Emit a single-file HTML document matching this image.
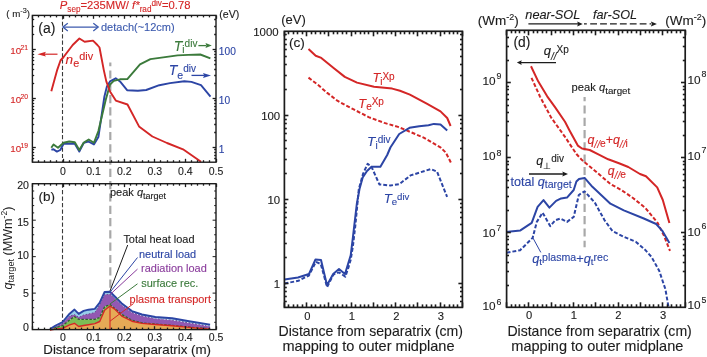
<!DOCTYPE html>
<html><head><meta charset="utf-8"><style>
html,body{margin:0;padding:0;background:#fff;width:707px;height:357px;overflow:hidden}
svg{display:block;will-change:transform}
text{font-family:"Liberation Sans", sans-serif}
</style></head><body>
<svg width="707" height="357" viewBox="0 0 707 357">
<rect width="707" height="357" fill="#fff"/>
<line x1="62.50" y1="15.40" x2="62.50" y2="162.20" stroke="#3a3a3a" stroke-width="1.1" stroke-dasharray="4.1,2.2"/>
<line x1="62.50" y1="183.50" x2="62.50" y2="329.50" stroke="#3a3a3a" stroke-width="1.1" stroke-dasharray="4.2,2.3"/>
<line x1="110.30" y1="62.50" x2="110.30" y2="330.00" stroke="#a8a8a8" stroke-width="2.2" stroke-dasharray="8.2,4.1" stroke-dashoffset="4.4"/>
<polyline points="51.3,149.6 53.5,149.3 56.9,151.6 60.3,150.0 63.6,143.7 69.2,143.7 74.8,143.7 79.3,151.6 83.8,142.8 88.3,141.5 93.9,144.4 98.4,137.0 104.4,96.5 106.9,86.4 110.0,81.4 115.7,78.3 120.0,81.4 127.1,90.2 137.9,90.7 146.2,90.0 159.3,85.2 170.0,83.1 184.3,81.2 191.4,81.9 201.0,85.2 210.5,96.7" fill="none" stroke="#2c45a5" stroke-width="1.9" stroke-linejoin="round"/>
<polyline points="51.3,147.8 53.5,144.4 58.0,147.8 63.6,142.8 69.2,141.5 74.8,142.2 79.3,150.0 83.8,142.6 88.7,139.5 93.9,142.8 98.4,131.0 105.7,100.0 110.0,84.6 113.8,80.8 120.0,79.3 127.3,79.1 140.0,64.4 150.4,59.1 165.0,57.1 177.6,55.4 188.3,54.9 200.3,54.5 210.4,58.3" fill="none" stroke="#3b7a3b" stroke-width="1.9" stroke-linejoin="round"/>
<polyline points="51.3,91.3 57.3,69.6 60.5,60.5 63.6,57.0 72.7,45.0 79.4,38.5 84.6,41.7 93.0,40.6 97.4,45.0 99.5,47.5 103.8,70.1 106.3,81.4 110.0,91.5 115.8,100.6 127.5,104.5 139.0,126.4 152.4,136.5 167.0,143.0 183.0,149.3 201.0,161.8" fill="none" stroke="#d42626" stroke-width="1.9" stroke-linejoin="round"/>
<rect x="32.4" y="15.4" width="183.6" height="146.79999999999998" fill="none" stroke="#1c1c1c" stroke-width="1.4"/>
<line x1="32.50" y1="162.20" x2="32.50" y2="158.80" stroke="#1c1c1c" stroke-width="1.3"/>
<line x1="32.50" y1="15.40" x2="32.50" y2="18.80" stroke="#1c1c1c" stroke-width="1.3"/>
<line x1="38.50" y1="162.20" x2="38.50" y2="160.20" stroke="#1c1c1c" stroke-width="1.3"/>
<line x1="38.50" y1="15.40" x2="38.50" y2="17.40" stroke="#1c1c1c" stroke-width="1.3"/>
<line x1="44.50" y1="162.20" x2="44.50" y2="160.20" stroke="#1c1c1c" stroke-width="1.3"/>
<line x1="44.50" y1="15.40" x2="44.50" y2="17.40" stroke="#1c1c1c" stroke-width="1.3"/>
<line x1="50.50" y1="162.20" x2="50.50" y2="160.20" stroke="#1c1c1c" stroke-width="1.3"/>
<line x1="50.50" y1="15.40" x2="50.50" y2="17.40" stroke="#1c1c1c" stroke-width="1.3"/>
<line x1="56.50" y1="162.20" x2="56.50" y2="160.20" stroke="#1c1c1c" stroke-width="1.3"/>
<line x1="56.50" y1="15.40" x2="56.50" y2="17.40" stroke="#1c1c1c" stroke-width="1.3"/>
<line x1="63.50" y1="162.20" x2="63.50" y2="158.80" stroke="#1c1c1c" stroke-width="1.3"/>
<line x1="63.50" y1="15.40" x2="63.50" y2="18.80" stroke="#1c1c1c" stroke-width="1.3"/>
<line x1="69.50" y1="162.20" x2="69.50" y2="160.20" stroke="#1c1c1c" stroke-width="1.3"/>
<line x1="69.50" y1="15.40" x2="69.50" y2="17.40" stroke="#1c1c1c" stroke-width="1.3"/>
<line x1="75.50" y1="162.20" x2="75.50" y2="160.20" stroke="#1c1c1c" stroke-width="1.3"/>
<line x1="75.50" y1="15.40" x2="75.50" y2="17.40" stroke="#1c1c1c" stroke-width="1.3"/>
<line x1="81.50" y1="162.20" x2="81.50" y2="160.20" stroke="#1c1c1c" stroke-width="1.3"/>
<line x1="81.50" y1="15.40" x2="81.50" y2="17.40" stroke="#1c1c1c" stroke-width="1.3"/>
<line x1="87.50" y1="162.20" x2="87.50" y2="160.20" stroke="#1c1c1c" stroke-width="1.3"/>
<line x1="87.50" y1="15.40" x2="87.50" y2="17.40" stroke="#1c1c1c" stroke-width="1.3"/>
<line x1="93.50" y1="162.20" x2="93.50" y2="158.80" stroke="#1c1c1c" stroke-width="1.3"/>
<line x1="93.50" y1="15.40" x2="93.50" y2="18.80" stroke="#1c1c1c" stroke-width="1.3"/>
<line x1="99.50" y1="162.20" x2="99.50" y2="160.20" stroke="#1c1c1c" stroke-width="1.3"/>
<line x1="99.50" y1="15.40" x2="99.50" y2="17.40" stroke="#1c1c1c" stroke-width="1.3"/>
<line x1="105.50" y1="162.20" x2="105.50" y2="160.20" stroke="#1c1c1c" stroke-width="1.3"/>
<line x1="105.50" y1="15.40" x2="105.50" y2="17.40" stroke="#1c1c1c" stroke-width="1.3"/>
<line x1="111.50" y1="162.20" x2="111.50" y2="160.20" stroke="#1c1c1c" stroke-width="1.3"/>
<line x1="111.50" y1="15.40" x2="111.50" y2="17.40" stroke="#1c1c1c" stroke-width="1.3"/>
<line x1="118.50" y1="162.20" x2="118.50" y2="160.20" stroke="#1c1c1c" stroke-width="1.3"/>
<line x1="118.50" y1="15.40" x2="118.50" y2="17.40" stroke="#1c1c1c" stroke-width="1.3"/>
<line x1="124.50" y1="162.20" x2="124.50" y2="158.80" stroke="#1c1c1c" stroke-width="1.3"/>
<line x1="124.50" y1="15.40" x2="124.50" y2="18.80" stroke="#1c1c1c" stroke-width="1.3"/>
<line x1="130.50" y1="162.20" x2="130.50" y2="160.20" stroke="#1c1c1c" stroke-width="1.3"/>
<line x1="130.50" y1="15.40" x2="130.50" y2="17.40" stroke="#1c1c1c" stroke-width="1.3"/>
<line x1="136.50" y1="162.20" x2="136.50" y2="160.20" stroke="#1c1c1c" stroke-width="1.3"/>
<line x1="136.50" y1="15.40" x2="136.50" y2="17.40" stroke="#1c1c1c" stroke-width="1.3"/>
<line x1="142.50" y1="162.20" x2="142.50" y2="160.20" stroke="#1c1c1c" stroke-width="1.3"/>
<line x1="142.50" y1="15.40" x2="142.50" y2="17.40" stroke="#1c1c1c" stroke-width="1.3"/>
<line x1="148.50" y1="162.20" x2="148.50" y2="160.20" stroke="#1c1c1c" stroke-width="1.3"/>
<line x1="148.50" y1="15.40" x2="148.50" y2="17.40" stroke="#1c1c1c" stroke-width="1.3"/>
<line x1="154.50" y1="162.20" x2="154.50" y2="158.80" stroke="#1c1c1c" stroke-width="1.3"/>
<line x1="154.50" y1="15.40" x2="154.50" y2="18.80" stroke="#1c1c1c" stroke-width="1.3"/>
<line x1="160.50" y1="162.20" x2="160.50" y2="160.20" stroke="#1c1c1c" stroke-width="1.3"/>
<line x1="160.50" y1="15.40" x2="160.50" y2="17.40" stroke="#1c1c1c" stroke-width="1.3"/>
<line x1="167.50" y1="162.20" x2="167.50" y2="160.20" stroke="#1c1c1c" stroke-width="1.3"/>
<line x1="167.50" y1="15.40" x2="167.50" y2="17.40" stroke="#1c1c1c" stroke-width="1.3"/>
<line x1="173.50" y1="162.20" x2="173.50" y2="160.20" stroke="#1c1c1c" stroke-width="1.3"/>
<line x1="173.50" y1="15.40" x2="173.50" y2="17.40" stroke="#1c1c1c" stroke-width="1.3"/>
<line x1="179.50" y1="162.20" x2="179.50" y2="160.20" stroke="#1c1c1c" stroke-width="1.3"/>
<line x1="179.50" y1="15.40" x2="179.50" y2="17.40" stroke="#1c1c1c" stroke-width="1.3"/>
<line x1="185.50" y1="162.20" x2="185.50" y2="158.80" stroke="#1c1c1c" stroke-width="1.3"/>
<line x1="185.50" y1="15.40" x2="185.50" y2="18.80" stroke="#1c1c1c" stroke-width="1.3"/>
<line x1="191.50" y1="162.20" x2="191.50" y2="160.20" stroke="#1c1c1c" stroke-width="1.3"/>
<line x1="191.50" y1="15.40" x2="191.50" y2="17.40" stroke="#1c1c1c" stroke-width="1.3"/>
<line x1="197.50" y1="162.20" x2="197.50" y2="160.20" stroke="#1c1c1c" stroke-width="1.3"/>
<line x1="197.50" y1="15.40" x2="197.50" y2="17.40" stroke="#1c1c1c" stroke-width="1.3"/>
<line x1="203.50" y1="162.20" x2="203.50" y2="160.20" stroke="#1c1c1c" stroke-width="1.3"/>
<line x1="203.50" y1="15.40" x2="203.50" y2="17.40" stroke="#1c1c1c" stroke-width="1.3"/>
<line x1="209.50" y1="162.20" x2="209.50" y2="160.20" stroke="#1c1c1c" stroke-width="1.3"/>
<line x1="209.50" y1="15.40" x2="209.50" y2="17.40" stroke="#1c1c1c" stroke-width="1.3"/>
<line x1="216.50" y1="162.20" x2="216.50" y2="158.80" stroke="#1c1c1c" stroke-width="1.3"/>
<line x1="216.50" y1="15.40" x2="216.50" y2="18.80" stroke="#1c1c1c" stroke-width="1.3"/>
<line x1="32.40" y1="158.50" x2="34.20" y2="158.50" stroke="#1c1c1c" stroke-width="1.3"/>
<line x1="216.00" y1="158.50" x2="214.20" y2="158.50" stroke="#1c1c1c" stroke-width="1.3"/>
<line x1="32.40" y1="155.50" x2="34.20" y2="155.50" stroke="#1c1c1c" stroke-width="1.3"/>
<line x1="216.00" y1="155.50" x2="214.20" y2="155.50" stroke="#1c1c1c" stroke-width="1.3"/>
<line x1="32.40" y1="152.50" x2="34.20" y2="152.50" stroke="#1c1c1c" stroke-width="1.3"/>
<line x1="216.00" y1="152.50" x2="214.20" y2="152.50" stroke="#1c1c1c" stroke-width="1.3"/>
<line x1="32.40" y1="149.50" x2="34.20" y2="149.50" stroke="#1c1c1c" stroke-width="1.3"/>
<line x1="216.00" y1="149.50" x2="214.20" y2="149.50" stroke="#1c1c1c" stroke-width="1.3"/>
<line x1="32.40" y1="147.50" x2="35.80" y2="147.50" stroke="#1c1c1c" stroke-width="1.3"/>
<line x1="216.00" y1="147.50" x2="212.60" y2="147.50" stroke="#1c1c1c" stroke-width="1.3"/>
<line x1="32.40" y1="132.50" x2="34.20" y2="132.50" stroke="#1c1c1c" stroke-width="1.3"/>
<line x1="216.00" y1="132.50" x2="214.20" y2="132.50" stroke="#1c1c1c" stroke-width="1.3"/>
<line x1="32.40" y1="124.50" x2="34.20" y2="124.50" stroke="#1c1c1c" stroke-width="1.3"/>
<line x1="216.00" y1="124.50" x2="214.20" y2="124.50" stroke="#1c1c1c" stroke-width="1.3"/>
<line x1="32.40" y1="118.50" x2="34.20" y2="118.50" stroke="#1c1c1c" stroke-width="1.3"/>
<line x1="216.00" y1="118.50" x2="214.20" y2="118.50" stroke="#1c1c1c" stroke-width="1.3"/>
<line x1="32.40" y1="113.50" x2="34.20" y2="113.50" stroke="#1c1c1c" stroke-width="1.3"/>
<line x1="216.00" y1="113.50" x2="214.20" y2="113.50" stroke="#1c1c1c" stroke-width="1.3"/>
<line x1="32.40" y1="109.50" x2="34.20" y2="109.50" stroke="#1c1c1c" stroke-width="1.3"/>
<line x1="216.00" y1="109.50" x2="214.20" y2="109.50" stroke="#1c1c1c" stroke-width="1.3"/>
<line x1="32.40" y1="106.50" x2="34.20" y2="106.50" stroke="#1c1c1c" stroke-width="1.3"/>
<line x1="216.00" y1="106.50" x2="214.20" y2="106.50" stroke="#1c1c1c" stroke-width="1.3"/>
<line x1="32.40" y1="103.50" x2="34.20" y2="103.50" stroke="#1c1c1c" stroke-width="1.3"/>
<line x1="216.00" y1="103.50" x2="214.20" y2="103.50" stroke="#1c1c1c" stroke-width="1.3"/>
<line x1="32.40" y1="100.50" x2="34.20" y2="100.50" stroke="#1c1c1c" stroke-width="1.3"/>
<line x1="216.00" y1="100.50" x2="214.20" y2="100.50" stroke="#1c1c1c" stroke-width="1.3"/>
<line x1="32.40" y1="98.50" x2="35.80" y2="98.50" stroke="#1c1c1c" stroke-width="1.3"/>
<line x1="216.00" y1="98.50" x2="212.60" y2="98.50" stroke="#1c1c1c" stroke-width="1.3"/>
<line x1="32.40" y1="83.50" x2="34.20" y2="83.50" stroke="#1c1c1c" stroke-width="1.3"/>
<line x1="216.00" y1="83.50" x2="214.20" y2="83.50" stroke="#1c1c1c" stroke-width="1.3"/>
<line x1="32.40" y1="75.50" x2="34.20" y2="75.50" stroke="#1c1c1c" stroke-width="1.3"/>
<line x1="216.00" y1="75.50" x2="214.20" y2="75.50" stroke="#1c1c1c" stroke-width="1.3"/>
<line x1="32.40" y1="69.50" x2="34.20" y2="69.50" stroke="#1c1c1c" stroke-width="1.3"/>
<line x1="216.00" y1="69.50" x2="214.20" y2="69.50" stroke="#1c1c1c" stroke-width="1.3"/>
<line x1="32.40" y1="64.50" x2="34.20" y2="64.50" stroke="#1c1c1c" stroke-width="1.3"/>
<line x1="216.00" y1="64.50" x2="214.20" y2="64.50" stroke="#1c1c1c" stroke-width="1.3"/>
<line x1="32.40" y1="60.50" x2="34.20" y2="60.50" stroke="#1c1c1c" stroke-width="1.3"/>
<line x1="216.00" y1="60.50" x2="214.20" y2="60.50" stroke="#1c1c1c" stroke-width="1.3"/>
<line x1="32.40" y1="57.50" x2="34.20" y2="57.50" stroke="#1c1c1c" stroke-width="1.3"/>
<line x1="216.00" y1="57.50" x2="214.20" y2="57.50" stroke="#1c1c1c" stroke-width="1.3"/>
<line x1="32.40" y1="54.50" x2="34.20" y2="54.50" stroke="#1c1c1c" stroke-width="1.3"/>
<line x1="216.00" y1="54.50" x2="214.20" y2="54.50" stroke="#1c1c1c" stroke-width="1.3"/>
<line x1="32.40" y1="51.50" x2="34.20" y2="51.50" stroke="#1c1c1c" stroke-width="1.3"/>
<line x1="216.00" y1="51.50" x2="214.20" y2="51.50" stroke="#1c1c1c" stroke-width="1.3"/>
<line x1="32.40" y1="49.50" x2="35.80" y2="49.50" stroke="#1c1c1c" stroke-width="1.3"/>
<line x1="216.00" y1="49.50" x2="212.60" y2="49.50" stroke="#1c1c1c" stroke-width="1.3"/>
<line x1="32.40" y1="34.50" x2="34.20" y2="34.50" stroke="#1c1c1c" stroke-width="1.3"/>
<line x1="216.00" y1="34.50" x2="214.20" y2="34.50" stroke="#1c1c1c" stroke-width="1.3"/>
<line x1="32.40" y1="26.50" x2="34.20" y2="26.50" stroke="#1c1c1c" stroke-width="1.3"/>
<line x1="216.00" y1="26.50" x2="214.20" y2="26.50" stroke="#1c1c1c" stroke-width="1.3"/>
<line x1="32.40" y1="19.50" x2="34.20" y2="19.50" stroke="#1c1c1c" stroke-width="1.3"/>
<line x1="216.00" y1="19.50" x2="214.20" y2="19.50" stroke="#1c1c1c" stroke-width="1.3"/>
<text x="63.00" y="175.30" font-size="10.5" fill="#1c1c1c" stroke="#1c1c1c" stroke-width="0.12" text-anchor="middle">0</text>
<text x="93.60" y="175.30" font-size="10.5" fill="#1c1c1c" stroke="#1c1c1c" stroke-width="0.12" text-anchor="middle">0.1</text>
<text x="124.20" y="175.30" font-size="10.5" fill="#1c1c1c" stroke="#1c1c1c" stroke-width="0.12" text-anchor="middle">0.2</text>
<text x="154.80" y="175.30" font-size="10.5" fill="#1c1c1c" stroke="#1c1c1c" stroke-width="0.12" text-anchor="middle">0.3</text>
<text x="185.40" y="175.30" font-size="10.5" fill="#1c1c1c" stroke="#1c1c1c" stroke-width="0.12" text-anchor="middle">0.4</text>
<text x="216.00" y="175.30" font-size="10.5" fill="#1c1c1c" stroke="#1c1c1c" stroke-width="0.12" text-anchor="middle">0.5</text>
<text x="10.20" y="152.10" font-size="9.8" fill="#d42626" stroke="#d42626" stroke-width="0.12" text-anchor="start">10</text>
<text x="20.60" y="148.00" font-size="6.8" fill="#d42626" stroke="#d42626" stroke-width="0.12" text-anchor="start">19</text>
<text x="10.20" y="103.00" font-size="9.8" fill="#d42626" stroke="#d42626" stroke-width="0.12" text-anchor="start">10</text>
<text x="20.60" y="98.90" font-size="6.8" fill="#d42626" stroke="#d42626" stroke-width="0.12" text-anchor="start">20</text>
<text x="10.20" y="53.90" font-size="9.8" fill="#d42626" stroke="#d42626" stroke-width="0.12" text-anchor="start">10</text>
<text x="20.60" y="49.80" font-size="6.8" fill="#d42626" stroke="#d42626" stroke-width="0.12" text-anchor="start">21</text>
<text x="218.80" y="152.90" font-size="10.2" fill="#2c45a5" stroke="#2c45a5" stroke-width="0.12" text-anchor="start">1</text>
<text x="218.80" y="103.80" font-size="10.2" fill="#2c45a5" stroke="#2c45a5" stroke-width="0.12" text-anchor="start">10</text>
<text x="218.80" y="54.70" font-size="10.2" fill="#2c45a5" stroke="#2c45a5" stroke-width="0.12" text-anchor="start">100</text>
<text x="6.30" y="17.20" font-size="9.6" fill="#1c1c1c" stroke="#1c1c1c" stroke-width="0.12" text-anchor="start" textLength="23.8" lengthAdjust="spacingAndGlyphs">( m<tspan dy="-3.8" font-size="7.2">-3</tspan><tspan dy="3.8">)</tspan></text>
<text x="219.30" y="18.10" font-size="10.6" fill="#1c1c1c" stroke="#1c1c1c" stroke-width="0.12" text-anchor="start">(eV)</text>
<text x="59.80" y="9.40" font-size="11.25" fill="#d42626" stroke="#d42626" stroke-width="0.12" text-anchor="start"><tspan font-style="italic">P</tspan><tspan dy="2.7" font-size="8.2">sep</tspan><tspan dy="-2.7">=235MW/ </tspan><tspan font-style="italic">f*</tspan><tspan dy="2.7" font-size="8.2">rad</tspan><tspan dy="-6.4" font-size="8.2">div</tspan><tspan dy="3.7">=0.78</tspan></text>
<text x="38.30" y="33.20" font-size="14.0" fill="#1c1c1c" stroke="#1c1c1c" stroke-width="0.12" text-anchor="start">(a)</text>
<line x1="57.50" y1="54.20" x2="44.00" y2="54.20" stroke="#d42626" stroke-width="1.2"/>
<polygon points="37.4,54.2 45.9,51.8 44.6,54.2 45.9,56.6" fill="#d42626"/>
<line x1="63.20" y1="27.10" x2="97.80" y2="27.10" stroke="#3c5aae" stroke-width="1.3"/>
<polyline points="67.8,23.3 62.9,27.1 67.8,30.9" fill="none" stroke="#3c5aae" stroke-width="1.3"/>
<polyline points="93.3,23.3 98.2,27.1 93.3,30.9" fill="none" stroke="#3c5aae" stroke-width="1.3"/>
<text x="101.00" y="31.30" font-size="11.0" fill="#3c5aae" stroke="#3c5aae" stroke-width="0.12" text-anchor="start">detach(~12cm)</text>
<text x="65.60" y="63.60" font-size="13.6" fill="#d42626" stroke="#d42626" stroke-width="0.12" text-anchor="start"><tspan font-style="italic">n</tspan><tspan dy="3.1" font-size="10.8">e</tspan><tspan dy="-6.4" font-size="10.9">div</tspan></text>
<text x="173.80" y="50.80" font-size="14.0" fill="#3b7a3b" stroke="#3b7a3b" stroke-width="0.12" text-anchor="start"><tspan font-style="italic">T</tspan><tspan dy="2.6" font-size="10">i</tspan><tspan dy="-6.4" font-size="10">div</tspan></text>
<line x1="198.40" y1="45.60" x2="206.00" y2="45.60" stroke="#3b7a3b" stroke-width="1.3"/>
<polygon points="211.8,45.6 205.5,48.1 206.4,45.6 205.5,43.1" fill="#3b7a3b"/>
<text x="168.80" y="75.30" font-size="14.0" fill="#2c45a5" stroke="#2c45a5" stroke-width="0.12" text-anchor="start"><tspan font-style="italic">T</tspan><tspan dy="3.2" font-size="10.5">e</tspan><tspan dy="-6.9" font-size="10">div</tspan></text>
<line x1="191.50" y1="75.40" x2="204.00" y2="75.40" stroke="#2c45a5" stroke-width="1.3"/>
<polygon points="211.0,75.4 203.0,77.9 204.2,75.4 203.0,72.9" fill="#2c45a5"/>
<polygon points="50.0,329.0 55.6,325.5 62.6,322.0 69.6,313.7 74.5,309.6 78.7,313.9 83.6,310.9 88.5,309.7 94.8,308.9 99.7,302.7 104.6,292.0 110.0,291.8 115.1,296.8 121.8,303.5 131.9,311.1 142.0,314.5 155.4,317.0 172.2,318.3 189.1,321.2 210.1,324.6 210.1,326.2 189.1,322.8 172.2,320.0 155.4,318.5 142.0,315.8 131.9,312.3 121.8,305.0 115.1,298.5 110.0,294.3 104.6,294.5 99.7,304.8 94.8,312.5 88.5,314.0 83.6,315.0 78.7,317.2 74.5,314.6 69.6,316.0 62.6,323.3 55.6,326.5 50.0,329.5" fill="#98cfea"/>
<polygon points="50.0,329.5 55.6,326.5 62.6,323.3 69.6,316.0 74.5,314.6 78.7,317.2 83.6,315.0 88.5,314.0 94.8,312.5 99.7,304.8 104.6,294.5 110.0,294.3 115.1,298.5 121.8,305.0 131.9,312.3 142.0,315.8 155.4,318.5 172.2,320.0 189.1,322.8 210.1,326.2 210.1,328.8 189.1,327.1 172.2,325.4 155.4,324.0 142.0,322.9 131.9,320.3 121.8,314.5 115.1,308.6 110.0,304.6 104.6,306.7 99.7,317.5 94.8,319.3 88.5,319.3 83.6,319.3 78.7,319.3 74.5,316.6 69.6,320.0 62.6,325.6 55.6,327.5 50.0,330.0" fill="#9358b2"/>
<polygon points="50.0,330.0 55.6,327.5 62.6,325.6 69.6,320.0 74.5,316.6 78.7,319.3 83.6,319.3 88.5,319.3 94.8,319.3 99.7,317.5 104.6,306.7 110.0,304.6 115.1,308.6 121.8,314.5 131.9,320.3 142.0,322.9 155.4,324.0 172.2,325.4 189.1,327.1 210.1,328.8 210.1,329.2 189.1,327.4 172.2,325.8 155.4,324.5 142.0,323.4 131.9,321.2 121.8,316.1 115.1,309.4 110.0,306.0 104.6,310.2 99.7,321.5 94.8,323.6 88.5,324.7 83.6,325.5 78.7,326.5 74.5,323.3 69.6,324.9 62.6,328.3 55.6,329.1 50.0,330.0" fill="#7dbd55"/>
<polygon points="50.0,330.0 55.6,329.1 62.6,328.3 69.6,324.9 74.5,323.3 78.7,326.5 83.6,325.5 88.5,324.7 94.8,323.6 99.7,321.5 104.6,310.2 110.0,306.0 115.1,309.4 121.8,316.1 131.9,321.2 142.0,323.4 155.4,324.5 172.2,325.8 189.1,327.4 210.1,329.2 210.1,329.6 189.1,329.6 172.2,329.6 155.4,329.6 142.0,329.6 131.9,329.6 121.8,329.6 115.1,329.6 110.0,329.6 104.6,329.6 99.7,329.6 94.8,329.6 88.5,329.6 83.6,329.6 78.7,329.6 74.5,329.6 69.6,329.6 62.6,329.6 55.6,329.6 50.0,329.6" fill="#e6aa56"/>
<polyline points="50.0,329.5 55.6,326.5 62.6,323.3 69.6,316.0 74.5,314.6 78.7,317.2 83.6,315.0 88.5,314.0 94.8,312.5 99.7,304.8 104.6,294.5 110.0,294.3 115.1,298.5 121.8,305.0 131.9,312.3 142.0,315.8 155.4,318.5 172.2,320.0 189.1,322.8 210.1,326.2" fill="none" stroke="#5a4a8a" stroke-width="0.9" stroke-linejoin="round" stroke-dasharray="1.6,1.6"/>
<polyline points="115.1,298.5 121.8,305.0 131.9,312.3 142.0,315.8 155.4,318.5 172.2,320.0 189.1,322.8 210.1,326.2" fill="none" stroke="#dfe8f8" stroke-width="1.0" stroke-linejoin="round" stroke-dasharray="1.2,2.2"/>
<polyline points="50.0,330.0 55.6,327.5 62.6,325.6 69.6,320.0 74.5,316.6 78.7,319.3 83.6,319.3 88.5,319.3 94.8,319.3 99.7,317.5 104.6,306.7 110.0,304.6 115.1,308.6 121.8,314.5 131.9,320.3 142.0,322.9 155.4,324.0 172.2,325.4 189.1,327.1 210.1,328.8" fill="none" stroke="#2f5f2f" stroke-width="1.3" stroke-linejoin="round" stroke-dasharray="2.5,1.5"/>
<polyline points="50.0,330.0 55.6,329.1 62.6,328.3 69.6,324.9 74.5,323.3 78.7,326.5 83.6,325.5 88.5,324.7 94.8,323.6 99.7,321.5 104.6,310.2 110.0,306.0 115.1,309.4 121.8,316.1 131.9,321.2 142.0,323.4 155.4,324.5 172.2,325.8 189.1,327.4 210.1,329.2" fill="none" stroke="#d42626" stroke-width="1.4" stroke-linejoin="round"/>
<polyline points="50.0,329.0 55.6,325.5 62.6,322.0 69.6,313.7 74.5,309.6 78.7,313.9 83.6,310.9 88.5,309.7 94.8,308.9 99.7,302.7 104.6,292.0 110.0,291.8 115.1,296.8 121.8,303.5 131.9,311.1 142.0,314.5 155.4,317.0 172.2,318.3 189.1,321.2 210.1,324.6" fill="none" stroke="#2c45a5" stroke-width="1.9" stroke-linejoin="round"/>
<line x1="110.00" y1="329.60" x2="110.00" y2="306.00" stroke="#d42626" stroke-width="1.1"/>
<line x1="110.00" y1="321.20" x2="133.60" y2="303.50" stroke="#d42626" stroke-width="1.0"/>
<line x1="110.00" y1="304.00" x2="137.50" y2="283.80" stroke="#3b7a3b" stroke-width="1.0"/>
<line x1="110.00" y1="294.60" x2="137.50" y2="269.10" stroke="#8a3c9c" stroke-width="1.0"/>
<line x1="110.00" y1="292.30" x2="137.50" y2="257.50" stroke="#2c45a5" stroke-width="1.0"/>
<line x1="110.00" y1="291.00" x2="127.70" y2="245.00" stroke="#1c1c1c" stroke-width="1.0"/>
<rect x="32.4" y="183.7" width="183.6" height="145.90000000000003" fill="none" stroke="#1c1c1c" stroke-width="1.4"/>
<line x1="32.50" y1="329.60" x2="32.50" y2="326.20" stroke="#1c1c1c" stroke-width="1.3"/>
<line x1="32.50" y1="183.70" x2="32.50" y2="187.10" stroke="#1c1c1c" stroke-width="1.3"/>
<line x1="38.50" y1="329.60" x2="38.50" y2="327.60" stroke="#1c1c1c" stroke-width="1.3"/>
<line x1="38.50" y1="183.70" x2="38.50" y2="185.70" stroke="#1c1c1c" stroke-width="1.3"/>
<line x1="44.50" y1="329.60" x2="44.50" y2="327.60" stroke="#1c1c1c" stroke-width="1.3"/>
<line x1="44.50" y1="183.70" x2="44.50" y2="185.70" stroke="#1c1c1c" stroke-width="1.3"/>
<line x1="50.50" y1="329.60" x2="50.50" y2="327.60" stroke="#1c1c1c" stroke-width="1.3"/>
<line x1="50.50" y1="183.70" x2="50.50" y2="185.70" stroke="#1c1c1c" stroke-width="1.3"/>
<line x1="56.50" y1="329.60" x2="56.50" y2="327.60" stroke="#1c1c1c" stroke-width="1.3"/>
<line x1="56.50" y1="183.70" x2="56.50" y2="185.70" stroke="#1c1c1c" stroke-width="1.3"/>
<line x1="63.50" y1="329.60" x2="63.50" y2="326.20" stroke="#1c1c1c" stroke-width="1.3"/>
<line x1="63.50" y1="183.70" x2="63.50" y2="187.10" stroke="#1c1c1c" stroke-width="1.3"/>
<line x1="69.50" y1="329.60" x2="69.50" y2="327.60" stroke="#1c1c1c" stroke-width="1.3"/>
<line x1="69.50" y1="183.70" x2="69.50" y2="185.70" stroke="#1c1c1c" stroke-width="1.3"/>
<line x1="75.50" y1="329.60" x2="75.50" y2="327.60" stroke="#1c1c1c" stroke-width="1.3"/>
<line x1="75.50" y1="183.70" x2="75.50" y2="185.70" stroke="#1c1c1c" stroke-width="1.3"/>
<line x1="81.50" y1="329.60" x2="81.50" y2="327.60" stroke="#1c1c1c" stroke-width="1.3"/>
<line x1="81.50" y1="183.70" x2="81.50" y2="185.70" stroke="#1c1c1c" stroke-width="1.3"/>
<line x1="87.50" y1="329.60" x2="87.50" y2="327.60" stroke="#1c1c1c" stroke-width="1.3"/>
<line x1="87.50" y1="183.70" x2="87.50" y2="185.70" stroke="#1c1c1c" stroke-width="1.3"/>
<line x1="93.50" y1="329.60" x2="93.50" y2="326.20" stroke="#1c1c1c" stroke-width="1.3"/>
<line x1="93.50" y1="183.70" x2="93.50" y2="187.10" stroke="#1c1c1c" stroke-width="1.3"/>
<line x1="99.50" y1="329.60" x2="99.50" y2="327.60" stroke="#1c1c1c" stroke-width="1.3"/>
<line x1="99.50" y1="183.70" x2="99.50" y2="185.70" stroke="#1c1c1c" stroke-width="1.3"/>
<line x1="105.50" y1="329.60" x2="105.50" y2="327.60" stroke="#1c1c1c" stroke-width="1.3"/>
<line x1="105.50" y1="183.70" x2="105.50" y2="185.70" stroke="#1c1c1c" stroke-width="1.3"/>
<line x1="111.50" y1="329.60" x2="111.50" y2="327.60" stroke="#1c1c1c" stroke-width="1.3"/>
<line x1="111.50" y1="183.70" x2="111.50" y2="185.70" stroke="#1c1c1c" stroke-width="1.3"/>
<line x1="118.50" y1="329.60" x2="118.50" y2="327.60" stroke="#1c1c1c" stroke-width="1.3"/>
<line x1="118.50" y1="183.70" x2="118.50" y2="185.70" stroke="#1c1c1c" stroke-width="1.3"/>
<line x1="124.50" y1="329.60" x2="124.50" y2="326.20" stroke="#1c1c1c" stroke-width="1.3"/>
<line x1="124.50" y1="183.70" x2="124.50" y2="187.10" stroke="#1c1c1c" stroke-width="1.3"/>
<line x1="130.50" y1="329.60" x2="130.50" y2="327.60" stroke="#1c1c1c" stroke-width="1.3"/>
<line x1="130.50" y1="183.70" x2="130.50" y2="185.70" stroke="#1c1c1c" stroke-width="1.3"/>
<line x1="136.50" y1="329.60" x2="136.50" y2="327.60" stroke="#1c1c1c" stroke-width="1.3"/>
<line x1="136.50" y1="183.70" x2="136.50" y2="185.70" stroke="#1c1c1c" stroke-width="1.3"/>
<line x1="142.50" y1="329.60" x2="142.50" y2="327.60" stroke="#1c1c1c" stroke-width="1.3"/>
<line x1="142.50" y1="183.70" x2="142.50" y2="185.70" stroke="#1c1c1c" stroke-width="1.3"/>
<line x1="148.50" y1="329.60" x2="148.50" y2="327.60" stroke="#1c1c1c" stroke-width="1.3"/>
<line x1="148.50" y1="183.70" x2="148.50" y2="185.70" stroke="#1c1c1c" stroke-width="1.3"/>
<line x1="154.50" y1="329.60" x2="154.50" y2="326.20" stroke="#1c1c1c" stroke-width="1.3"/>
<line x1="154.50" y1="183.70" x2="154.50" y2="187.10" stroke="#1c1c1c" stroke-width="1.3"/>
<line x1="160.50" y1="329.60" x2="160.50" y2="327.60" stroke="#1c1c1c" stroke-width="1.3"/>
<line x1="160.50" y1="183.70" x2="160.50" y2="185.70" stroke="#1c1c1c" stroke-width="1.3"/>
<line x1="167.50" y1="329.60" x2="167.50" y2="327.60" stroke="#1c1c1c" stroke-width="1.3"/>
<line x1="167.50" y1="183.70" x2="167.50" y2="185.70" stroke="#1c1c1c" stroke-width="1.3"/>
<line x1="173.50" y1="329.60" x2="173.50" y2="327.60" stroke="#1c1c1c" stroke-width="1.3"/>
<line x1="173.50" y1="183.70" x2="173.50" y2="185.70" stroke="#1c1c1c" stroke-width="1.3"/>
<line x1="179.50" y1="329.60" x2="179.50" y2="327.60" stroke="#1c1c1c" stroke-width="1.3"/>
<line x1="179.50" y1="183.70" x2="179.50" y2="185.70" stroke="#1c1c1c" stroke-width="1.3"/>
<line x1="185.50" y1="329.60" x2="185.50" y2="326.20" stroke="#1c1c1c" stroke-width="1.3"/>
<line x1="185.50" y1="183.70" x2="185.50" y2="187.10" stroke="#1c1c1c" stroke-width="1.3"/>
<line x1="191.50" y1="329.60" x2="191.50" y2="327.60" stroke="#1c1c1c" stroke-width="1.3"/>
<line x1="191.50" y1="183.70" x2="191.50" y2="185.70" stroke="#1c1c1c" stroke-width="1.3"/>
<line x1="197.50" y1="329.60" x2="197.50" y2="327.60" stroke="#1c1c1c" stroke-width="1.3"/>
<line x1="197.50" y1="183.70" x2="197.50" y2="185.70" stroke="#1c1c1c" stroke-width="1.3"/>
<line x1="203.50" y1="329.60" x2="203.50" y2="327.60" stroke="#1c1c1c" stroke-width="1.3"/>
<line x1="203.50" y1="183.70" x2="203.50" y2="185.70" stroke="#1c1c1c" stroke-width="1.3"/>
<line x1="209.50" y1="329.60" x2="209.50" y2="327.60" stroke="#1c1c1c" stroke-width="1.3"/>
<line x1="209.50" y1="183.70" x2="209.50" y2="185.70" stroke="#1c1c1c" stroke-width="1.3"/>
<line x1="216.50" y1="329.60" x2="216.50" y2="326.20" stroke="#1c1c1c" stroke-width="1.3"/>
<line x1="216.50" y1="183.70" x2="216.50" y2="187.10" stroke="#1c1c1c" stroke-width="1.3"/>
<line x1="32.40" y1="322.31" x2="34.20" y2="322.31" stroke="#1c1c1c" stroke-width="1.0"/>
<line x1="216.00" y1="322.31" x2="214.20" y2="322.31" stroke="#1c1c1c" stroke-width="1.0"/>
<line x1="32.40" y1="315.01" x2="34.20" y2="315.01" stroke="#1c1c1c" stroke-width="1.0"/>
<line x1="216.00" y1="315.01" x2="214.20" y2="315.01" stroke="#1c1c1c" stroke-width="1.0"/>
<line x1="32.40" y1="307.72" x2="34.20" y2="307.72" stroke="#1c1c1c" stroke-width="1.0"/>
<line x1="216.00" y1="307.72" x2="214.20" y2="307.72" stroke="#1c1c1c" stroke-width="1.0"/>
<line x1="32.40" y1="300.42" x2="34.20" y2="300.42" stroke="#1c1c1c" stroke-width="1.0"/>
<line x1="216.00" y1="300.42" x2="214.20" y2="300.42" stroke="#1c1c1c" stroke-width="1.0"/>
<line x1="32.40" y1="293.12" x2="35.80" y2="293.12" stroke="#1c1c1c" stroke-width="1.0"/>
<line x1="216.00" y1="293.12" x2="212.60" y2="293.12" stroke="#1c1c1c" stroke-width="1.0"/>
<line x1="32.40" y1="285.83" x2="34.20" y2="285.83" stroke="#1c1c1c" stroke-width="1.0"/>
<line x1="216.00" y1="285.83" x2="214.20" y2="285.83" stroke="#1c1c1c" stroke-width="1.0"/>
<line x1="32.40" y1="278.54" x2="34.20" y2="278.54" stroke="#1c1c1c" stroke-width="1.0"/>
<line x1="216.00" y1="278.54" x2="214.20" y2="278.54" stroke="#1c1c1c" stroke-width="1.0"/>
<line x1="32.40" y1="271.24" x2="34.20" y2="271.24" stroke="#1c1c1c" stroke-width="1.0"/>
<line x1="216.00" y1="271.24" x2="214.20" y2="271.24" stroke="#1c1c1c" stroke-width="1.0"/>
<line x1="32.40" y1="263.94" x2="34.20" y2="263.94" stroke="#1c1c1c" stroke-width="1.0"/>
<line x1="216.00" y1="263.94" x2="214.20" y2="263.94" stroke="#1c1c1c" stroke-width="1.0"/>
<line x1="32.40" y1="256.65" x2="35.80" y2="256.65" stroke="#1c1c1c" stroke-width="1.0"/>
<line x1="216.00" y1="256.65" x2="212.60" y2="256.65" stroke="#1c1c1c" stroke-width="1.0"/>
<line x1="32.40" y1="249.36" x2="34.20" y2="249.36" stroke="#1c1c1c" stroke-width="1.0"/>
<line x1="216.00" y1="249.36" x2="214.20" y2="249.36" stroke="#1c1c1c" stroke-width="1.0"/>
<line x1="32.40" y1="242.06" x2="34.20" y2="242.06" stroke="#1c1c1c" stroke-width="1.0"/>
<line x1="216.00" y1="242.06" x2="214.20" y2="242.06" stroke="#1c1c1c" stroke-width="1.0"/>
<line x1="32.40" y1="234.76" x2="34.20" y2="234.76" stroke="#1c1c1c" stroke-width="1.0"/>
<line x1="216.00" y1="234.76" x2="214.20" y2="234.76" stroke="#1c1c1c" stroke-width="1.0"/>
<line x1="32.40" y1="227.47" x2="34.20" y2="227.47" stroke="#1c1c1c" stroke-width="1.0"/>
<line x1="216.00" y1="227.47" x2="214.20" y2="227.47" stroke="#1c1c1c" stroke-width="1.0"/>
<line x1="32.40" y1="220.18" x2="35.80" y2="220.18" stroke="#1c1c1c" stroke-width="1.0"/>
<line x1="216.00" y1="220.18" x2="212.60" y2="220.18" stroke="#1c1c1c" stroke-width="1.0"/>
<line x1="32.40" y1="212.88" x2="34.20" y2="212.88" stroke="#1c1c1c" stroke-width="1.0"/>
<line x1="216.00" y1="212.88" x2="214.20" y2="212.88" stroke="#1c1c1c" stroke-width="1.0"/>
<line x1="32.40" y1="205.58" x2="34.20" y2="205.58" stroke="#1c1c1c" stroke-width="1.0"/>
<line x1="216.00" y1="205.58" x2="214.20" y2="205.58" stroke="#1c1c1c" stroke-width="1.0"/>
<line x1="32.40" y1="198.29" x2="34.20" y2="198.29" stroke="#1c1c1c" stroke-width="1.0"/>
<line x1="216.00" y1="198.29" x2="214.20" y2="198.29" stroke="#1c1c1c" stroke-width="1.0"/>
<line x1="32.40" y1="191.00" x2="34.20" y2="191.00" stroke="#1c1c1c" stroke-width="1.0"/>
<line x1="216.00" y1="191.00" x2="214.20" y2="191.00" stroke="#1c1c1c" stroke-width="1.0"/>
<text x="63.00" y="340.50" font-size="10.5" fill="#1c1c1c" stroke="#1c1c1c" stroke-width="0.12" text-anchor="middle">0</text>
<text x="93.60" y="340.50" font-size="10.5" fill="#1c1c1c" stroke="#1c1c1c" stroke-width="0.12" text-anchor="middle">0.1</text>
<text x="124.20" y="340.50" font-size="10.5" fill="#1c1c1c" stroke="#1c1c1c" stroke-width="0.12" text-anchor="middle">0.2</text>
<text x="154.80" y="340.50" font-size="10.5" fill="#1c1c1c" stroke="#1c1c1c" stroke-width="0.12" text-anchor="middle">0.3</text>
<text x="185.40" y="340.50" font-size="10.5" fill="#1c1c1c" stroke="#1c1c1c" stroke-width="0.12" text-anchor="middle">0.4</text>
<text x="216.00" y="340.50" font-size="10.5" fill="#1c1c1c" stroke="#1c1c1c" stroke-width="0.12" text-anchor="middle">0.5</text>
<text x="29.00" y="330.70" font-size="10.6" fill="#1c1c1c" stroke="#1c1c1c" stroke-width="0.12" text-anchor="end">0</text>
<text x="29.00" y="297.20" font-size="10.6" fill="#1c1c1c" stroke="#1c1c1c" stroke-width="0.12" text-anchor="end">5</text>
<text x="29.00" y="259.30" font-size="10.6" fill="#1c1c1c" stroke="#1c1c1c" stroke-width="0.12" text-anchor="end">10</text>
<text x="29.00" y="226.10" font-size="10.6" fill="#1c1c1c" stroke="#1c1c1c" stroke-width="0.12" text-anchor="end">15</text>
<text x="29.00" y="189.30" font-size="10.6" fill="#1c1c1c" stroke="#1c1c1c" stroke-width="0.12" text-anchor="end">20</text>
<text x="38.40" y="200.70" font-size="13.5" fill="#1c1c1c" stroke="#1c1c1c" stroke-width="0.12" text-anchor="start">(b)</text>
<text x="110.00" y="195.90" font-size="11.0" fill="#1c1c1c" stroke="#1c1c1c" stroke-width="0.12" text-anchor="start">peak <tspan font-style="italic">q</tspan><tspan dy="2.6" font-size="9.0">target</tspan></text>
<text x="123.40" y="242.80" font-size="10.95" fill="#1c1c1c" stroke="#1c1c1c" stroke-width="0.12" text-anchor="start">Total heat load</text>
<text x="139.00" y="257.50" font-size="10.95" fill="#2c45a5" stroke="#2c45a5" stroke-width="0.12" text-anchor="start">neutral load</text>
<text x="141.10" y="272.00" font-size="10.95" fill="#8a3c9c" stroke="#8a3c9c" stroke-width="0.12" text-anchor="start">radiation load</text>
<text x="141.20" y="286.90" font-size="10.95" fill="#3b7a3b" stroke="#3b7a3b" stroke-width="0.12" text-anchor="start">surface rec.</text>
<text x="129.60" y="302.70" font-size="10.95" fill="#d42626" stroke="#d42626" stroke-width="0.12" text-anchor="start">plasma transport</text>
<text x="43.30" y="354.00" font-size="13.3" fill="#1c1c1c" stroke="#1c1c1c" stroke-width="0.12" text-anchor="start">Distance from separatrix (m)</text>
<text transform="translate(11.6,248) rotate(-90)" font-size="12.6" fill="#1c1c1c" text-anchor="middle"><tspan font-style="italic">q</tspan><tspan dy="2.6" font-size="9.2">target</tspan><tspan dy="-2.6"> (MWm</tspan><tspan dy="-4.4" font-size="8.6">-2</tspan><tspan dy="4.4">)</tspan></text>
<polyline points="308.5,49.0 315.7,55.7 321.3,57.9 333.6,68.0 344.8,76.9 357.0,82.6 374.0,86.8 392.2,88.6 400.0,90.8 409.9,94.6 427.2,103.9 440.5,111.4 447.2,118.0 450.6,126.0" fill="none" stroke="#d42626" stroke-width="2.0" stroke-linejoin="round"/>
<polyline points="308.5,77.6 317.9,84.8 326.9,92.6 336.9,100.4 344.8,104.9 353.7,109.4 368.6,117.1 384.3,122.9 398.0,126.9 405.0,129.7 423.2,137.4 440.8,147.6 445.9,152.7 451.0,162.8" fill="none" stroke="#d42626" stroke-width="2.0" stroke-linejoin="round" stroke-dasharray="3.9,2.0"/>
<polyline points="284.5,279.5 298.0,277.5 309.0,274.0 315.5,259.5 321.0,260.0 327.0,285.3 333.2,274.0 339.0,269.0 345.0,274.0 350.7,255.3 352.9,237.4 354.8,221.0 356.8,204.0 359.5,189.0 362.7,177.5 367.0,171.0 371.5,166.8 380.4,166.8 387.2,155.0 390.4,147.5 399.2,134.0 409.5,127.8 419.2,126.3 428.5,125.2 433.9,123.9 440.5,124.4 447.2,130.5" fill="none" stroke="#2c45a5" stroke-width="2.0" stroke-linejoin="round"/>
<polyline points="284.5,283.5 298.4,280.8 308.9,275.5 315.9,261.9 320.8,264.0 327.1,287.1 333.4,274.5 339.0,272.4 345.3,276.6 348.4,267.6 350.7,259.7 352.9,246.3 355.3,226.0 358.8,189.3 363.0,174.0 367.6,163.8 371.5,166.8 379.4,184.4 390.4,185.5 399.2,184.2 410.6,175.4 430.7,169.1 437.0,171.6 447.1,196.8" fill="none" stroke="#2c45a5" stroke-width="2.0" stroke-linejoin="round" stroke-dasharray="3.9,2.0"/>
<rect x="284.4" y="31.3" width="178.0" height="276.09999999999997" fill="none" stroke="#1c1c1c" stroke-width="1.7"/>
<line x1="284.50" y1="307.40" x2="284.50" y2="302.40" stroke="#1c1c1c" stroke-width="1.6"/>
<line x1="284.50" y1="31.30" x2="284.50" y2="36.30" stroke="#1c1c1c" stroke-width="1.6"/>
<line x1="288.50" y1="307.40" x2="288.50" y2="304.40" stroke="#1c1c1c" stroke-width="1.6"/>
<line x1="288.50" y1="31.30" x2="288.50" y2="34.30" stroke="#1c1c1c" stroke-width="1.6"/>
<line x1="293.50" y1="307.40" x2="293.50" y2="304.40" stroke="#1c1c1c" stroke-width="1.6"/>
<line x1="293.50" y1="31.30" x2="293.50" y2="34.30" stroke="#1c1c1c" stroke-width="1.6"/>
<line x1="297.50" y1="307.40" x2="297.50" y2="304.40" stroke="#1c1c1c" stroke-width="1.6"/>
<line x1="297.50" y1="31.30" x2="297.50" y2="34.30" stroke="#1c1c1c" stroke-width="1.6"/>
<line x1="302.50" y1="307.40" x2="302.50" y2="304.40" stroke="#1c1c1c" stroke-width="1.6"/>
<line x1="302.50" y1="31.30" x2="302.50" y2="34.30" stroke="#1c1c1c" stroke-width="1.6"/>
<line x1="306.50" y1="307.40" x2="306.50" y2="302.40" stroke="#1c1c1c" stroke-width="1.6"/>
<line x1="306.50" y1="31.30" x2="306.50" y2="36.30" stroke="#1c1c1c" stroke-width="1.6"/>
<line x1="311.50" y1="307.40" x2="311.50" y2="304.40" stroke="#1c1c1c" stroke-width="1.6"/>
<line x1="311.50" y1="31.30" x2="311.50" y2="34.30" stroke="#1c1c1c" stroke-width="1.6"/>
<line x1="315.50" y1="307.40" x2="315.50" y2="304.40" stroke="#1c1c1c" stroke-width="1.6"/>
<line x1="315.50" y1="31.30" x2="315.50" y2="34.30" stroke="#1c1c1c" stroke-width="1.6"/>
<line x1="320.50" y1="307.40" x2="320.50" y2="304.40" stroke="#1c1c1c" stroke-width="1.6"/>
<line x1="320.50" y1="31.30" x2="320.50" y2="34.30" stroke="#1c1c1c" stroke-width="1.6"/>
<line x1="324.50" y1="307.40" x2="324.50" y2="304.40" stroke="#1c1c1c" stroke-width="1.6"/>
<line x1="324.50" y1="31.30" x2="324.50" y2="34.30" stroke="#1c1c1c" stroke-width="1.6"/>
<line x1="328.50" y1="307.40" x2="328.50" y2="302.40" stroke="#1c1c1c" stroke-width="1.6"/>
<line x1="328.50" y1="31.30" x2="328.50" y2="36.30" stroke="#1c1c1c" stroke-width="1.6"/>
<line x1="333.50" y1="307.40" x2="333.50" y2="304.40" stroke="#1c1c1c" stroke-width="1.6"/>
<line x1="333.50" y1="31.30" x2="333.50" y2="34.30" stroke="#1c1c1c" stroke-width="1.6"/>
<line x1="337.50" y1="307.40" x2="337.50" y2="304.40" stroke="#1c1c1c" stroke-width="1.6"/>
<line x1="337.50" y1="31.30" x2="337.50" y2="34.30" stroke="#1c1c1c" stroke-width="1.6"/>
<line x1="342.50" y1="307.40" x2="342.50" y2="304.40" stroke="#1c1c1c" stroke-width="1.6"/>
<line x1="342.50" y1="31.30" x2="342.50" y2="34.30" stroke="#1c1c1c" stroke-width="1.6"/>
<line x1="346.50" y1="307.40" x2="346.50" y2="304.40" stroke="#1c1c1c" stroke-width="1.6"/>
<line x1="346.50" y1="31.30" x2="346.50" y2="34.30" stroke="#1c1c1c" stroke-width="1.6"/>
<line x1="351.50" y1="307.40" x2="351.50" y2="302.40" stroke="#1c1c1c" stroke-width="1.6"/>
<line x1="351.50" y1="31.30" x2="351.50" y2="36.30" stroke="#1c1c1c" stroke-width="1.6"/>
<line x1="355.50" y1="307.40" x2="355.50" y2="304.40" stroke="#1c1c1c" stroke-width="1.6"/>
<line x1="355.50" y1="31.30" x2="355.50" y2="34.30" stroke="#1c1c1c" stroke-width="1.6"/>
<line x1="360.50" y1="307.40" x2="360.50" y2="304.40" stroke="#1c1c1c" stroke-width="1.6"/>
<line x1="360.50" y1="31.30" x2="360.50" y2="34.30" stroke="#1c1c1c" stroke-width="1.6"/>
<line x1="364.50" y1="307.40" x2="364.50" y2="304.40" stroke="#1c1c1c" stroke-width="1.6"/>
<line x1="364.50" y1="31.30" x2="364.50" y2="34.30" stroke="#1c1c1c" stroke-width="1.6"/>
<line x1="368.50" y1="307.40" x2="368.50" y2="304.40" stroke="#1c1c1c" stroke-width="1.6"/>
<line x1="368.50" y1="31.30" x2="368.50" y2="34.30" stroke="#1c1c1c" stroke-width="1.6"/>
<line x1="373.50" y1="307.40" x2="373.50" y2="302.40" stroke="#1c1c1c" stroke-width="1.6"/>
<line x1="373.50" y1="31.30" x2="373.50" y2="36.30" stroke="#1c1c1c" stroke-width="1.6"/>
<line x1="377.50" y1="307.40" x2="377.50" y2="304.40" stroke="#1c1c1c" stroke-width="1.6"/>
<line x1="377.50" y1="31.30" x2="377.50" y2="34.30" stroke="#1c1c1c" stroke-width="1.6"/>
<line x1="382.50" y1="307.40" x2="382.50" y2="304.40" stroke="#1c1c1c" stroke-width="1.6"/>
<line x1="382.50" y1="31.30" x2="382.50" y2="34.30" stroke="#1c1c1c" stroke-width="1.6"/>
<line x1="386.50" y1="307.40" x2="386.50" y2="304.40" stroke="#1c1c1c" stroke-width="1.6"/>
<line x1="386.50" y1="31.30" x2="386.50" y2="34.30" stroke="#1c1c1c" stroke-width="1.6"/>
<line x1="391.50" y1="307.40" x2="391.50" y2="304.40" stroke="#1c1c1c" stroke-width="1.6"/>
<line x1="391.50" y1="31.30" x2="391.50" y2="34.30" stroke="#1c1c1c" stroke-width="1.6"/>
<line x1="395.50" y1="307.40" x2="395.50" y2="302.40" stroke="#1c1c1c" stroke-width="1.6"/>
<line x1="395.50" y1="31.30" x2="395.50" y2="36.30" stroke="#1c1c1c" stroke-width="1.6"/>
<line x1="400.50" y1="307.40" x2="400.50" y2="304.40" stroke="#1c1c1c" stroke-width="1.6"/>
<line x1="400.50" y1="31.30" x2="400.50" y2="34.30" stroke="#1c1c1c" stroke-width="1.6"/>
<line x1="404.50" y1="307.40" x2="404.50" y2="304.40" stroke="#1c1c1c" stroke-width="1.6"/>
<line x1="404.50" y1="31.30" x2="404.50" y2="34.30" stroke="#1c1c1c" stroke-width="1.6"/>
<line x1="409.50" y1="307.40" x2="409.50" y2="304.40" stroke="#1c1c1c" stroke-width="1.6"/>
<line x1="409.50" y1="31.30" x2="409.50" y2="34.30" stroke="#1c1c1c" stroke-width="1.6"/>
<line x1="413.50" y1="307.40" x2="413.50" y2="304.40" stroke="#1c1c1c" stroke-width="1.6"/>
<line x1="413.50" y1="31.30" x2="413.50" y2="34.30" stroke="#1c1c1c" stroke-width="1.6"/>
<line x1="417.50" y1="307.40" x2="417.50" y2="302.40" stroke="#1c1c1c" stroke-width="1.6"/>
<line x1="417.50" y1="31.30" x2="417.50" y2="36.30" stroke="#1c1c1c" stroke-width="1.6"/>
<line x1="422.50" y1="307.40" x2="422.50" y2="304.40" stroke="#1c1c1c" stroke-width="1.6"/>
<line x1="422.50" y1="31.30" x2="422.50" y2="34.30" stroke="#1c1c1c" stroke-width="1.6"/>
<line x1="426.50" y1="307.40" x2="426.50" y2="304.40" stroke="#1c1c1c" stroke-width="1.6"/>
<line x1="426.50" y1="31.30" x2="426.50" y2="34.30" stroke="#1c1c1c" stroke-width="1.6"/>
<line x1="431.50" y1="307.40" x2="431.50" y2="304.40" stroke="#1c1c1c" stroke-width="1.6"/>
<line x1="431.50" y1="31.30" x2="431.50" y2="34.30" stroke="#1c1c1c" stroke-width="1.6"/>
<line x1="435.50" y1="307.40" x2="435.50" y2="304.40" stroke="#1c1c1c" stroke-width="1.6"/>
<line x1="435.50" y1="31.30" x2="435.50" y2="34.30" stroke="#1c1c1c" stroke-width="1.6"/>
<line x1="440.50" y1="307.40" x2="440.50" y2="302.40" stroke="#1c1c1c" stroke-width="1.6"/>
<line x1="440.50" y1="31.30" x2="440.50" y2="36.30" stroke="#1c1c1c" stroke-width="1.6"/>
<line x1="444.50" y1="307.40" x2="444.50" y2="304.40" stroke="#1c1c1c" stroke-width="1.6"/>
<line x1="444.50" y1="31.30" x2="444.50" y2="34.30" stroke="#1c1c1c" stroke-width="1.6"/>
<line x1="449.50" y1="307.40" x2="449.50" y2="304.40" stroke="#1c1c1c" stroke-width="1.6"/>
<line x1="449.50" y1="31.30" x2="449.50" y2="34.30" stroke="#1c1c1c" stroke-width="1.6"/>
<line x1="453.50" y1="307.40" x2="453.50" y2="304.40" stroke="#1c1c1c" stroke-width="1.6"/>
<line x1="453.50" y1="31.30" x2="453.50" y2="34.30" stroke="#1c1c1c" stroke-width="1.6"/>
<line x1="457.50" y1="307.40" x2="457.50" y2="304.40" stroke="#1c1c1c" stroke-width="1.6"/>
<line x1="457.50" y1="31.30" x2="457.50" y2="34.30" stroke="#1c1c1c" stroke-width="1.6"/>
<line x1="462.50" y1="307.40" x2="462.50" y2="302.40" stroke="#1c1c1c" stroke-width="1.6"/>
<line x1="462.50" y1="31.30" x2="462.50" y2="36.30" stroke="#1c1c1c" stroke-width="1.6"/>
<line x1="284.40" y1="301.50" x2="286.80" y2="301.50" stroke="#1c1c1c" stroke-width="1.6"/>
<line x1="462.40" y1="301.50" x2="460.00" y2="301.50" stroke="#1c1c1c" stroke-width="1.6"/>
<line x1="284.40" y1="296.50" x2="286.80" y2="296.50" stroke="#1c1c1c" stroke-width="1.6"/>
<line x1="462.40" y1="296.50" x2="460.00" y2="296.50" stroke="#1c1c1c" stroke-width="1.6"/>
<line x1="284.40" y1="291.50" x2="286.80" y2="291.50" stroke="#1c1c1c" stroke-width="1.6"/>
<line x1="462.40" y1="291.50" x2="460.00" y2="291.50" stroke="#1c1c1c" stroke-width="1.6"/>
<line x1="284.40" y1="287.50" x2="286.80" y2="287.50" stroke="#1c1c1c" stroke-width="1.6"/>
<line x1="462.40" y1="287.50" x2="460.00" y2="287.50" stroke="#1c1c1c" stroke-width="1.6"/>
<line x1="284.40" y1="283.50" x2="288.40" y2="283.50" stroke="#1c1c1c" stroke-width="1.6"/>
<line x1="462.40" y1="283.50" x2="458.40" y2="283.50" stroke="#1c1c1c" stroke-width="1.6"/>
<line x1="284.40" y1="257.50" x2="286.80" y2="257.50" stroke="#1c1c1c" stroke-width="1.6"/>
<line x1="462.40" y1="257.50" x2="460.00" y2="257.50" stroke="#1c1c1c" stroke-width="1.6"/>
<line x1="284.40" y1="243.50" x2="286.80" y2="243.50" stroke="#1c1c1c" stroke-width="1.6"/>
<line x1="462.40" y1="243.50" x2="460.00" y2="243.50" stroke="#1c1c1c" stroke-width="1.6"/>
<line x1="284.40" y1="232.50" x2="286.80" y2="232.50" stroke="#1c1c1c" stroke-width="1.6"/>
<line x1="462.40" y1="232.50" x2="460.00" y2="232.50" stroke="#1c1c1c" stroke-width="1.6"/>
<line x1="284.40" y1="224.50" x2="286.80" y2="224.50" stroke="#1c1c1c" stroke-width="1.6"/>
<line x1="462.40" y1="224.50" x2="460.00" y2="224.50" stroke="#1c1c1c" stroke-width="1.6"/>
<line x1="284.40" y1="217.50" x2="286.80" y2="217.50" stroke="#1c1c1c" stroke-width="1.6"/>
<line x1="462.40" y1="217.50" x2="460.00" y2="217.50" stroke="#1c1c1c" stroke-width="1.6"/>
<line x1="284.40" y1="212.50" x2="286.80" y2="212.50" stroke="#1c1c1c" stroke-width="1.6"/>
<line x1="462.40" y1="212.50" x2="460.00" y2="212.50" stroke="#1c1c1c" stroke-width="1.6"/>
<line x1="284.40" y1="207.50" x2="286.80" y2="207.50" stroke="#1c1c1c" stroke-width="1.6"/>
<line x1="462.40" y1="207.50" x2="460.00" y2="207.50" stroke="#1c1c1c" stroke-width="1.6"/>
<line x1="284.40" y1="203.50" x2="286.80" y2="203.50" stroke="#1c1c1c" stroke-width="1.6"/>
<line x1="462.40" y1="203.50" x2="460.00" y2="203.50" stroke="#1c1c1c" stroke-width="1.6"/>
<line x1="284.40" y1="199.50" x2="288.40" y2="199.50" stroke="#1c1c1c" stroke-width="1.6"/>
<line x1="462.40" y1="199.50" x2="458.40" y2="199.50" stroke="#1c1c1c" stroke-width="1.6"/>
<line x1="284.40" y1="173.50" x2="286.80" y2="173.50" stroke="#1c1c1c" stroke-width="1.6"/>
<line x1="462.40" y1="173.50" x2="460.00" y2="173.50" stroke="#1c1c1c" stroke-width="1.6"/>
<line x1="284.40" y1="159.50" x2="286.80" y2="159.50" stroke="#1c1c1c" stroke-width="1.6"/>
<line x1="462.40" y1="159.50" x2="460.00" y2="159.50" stroke="#1c1c1c" stroke-width="1.6"/>
<line x1="284.40" y1="148.50" x2="286.80" y2="148.50" stroke="#1c1c1c" stroke-width="1.6"/>
<line x1="462.40" y1="148.50" x2="460.00" y2="148.50" stroke="#1c1c1c" stroke-width="1.6"/>
<line x1="284.40" y1="140.50" x2="286.80" y2="140.50" stroke="#1c1c1c" stroke-width="1.6"/>
<line x1="462.40" y1="140.50" x2="460.00" y2="140.50" stroke="#1c1c1c" stroke-width="1.6"/>
<line x1="284.40" y1="133.50" x2="286.80" y2="133.50" stroke="#1c1c1c" stroke-width="1.6"/>
<line x1="462.40" y1="133.50" x2="460.00" y2="133.50" stroke="#1c1c1c" stroke-width="1.6"/>
<line x1="284.40" y1="128.50" x2="286.80" y2="128.50" stroke="#1c1c1c" stroke-width="1.6"/>
<line x1="462.40" y1="128.50" x2="460.00" y2="128.50" stroke="#1c1c1c" stroke-width="1.6"/>
<line x1="284.40" y1="123.50" x2="286.80" y2="123.50" stroke="#1c1c1c" stroke-width="1.6"/>
<line x1="462.40" y1="123.50" x2="460.00" y2="123.50" stroke="#1c1c1c" stroke-width="1.6"/>
<line x1="284.40" y1="119.50" x2="286.80" y2="119.50" stroke="#1c1c1c" stroke-width="1.6"/>
<line x1="462.40" y1="119.50" x2="460.00" y2="119.50" stroke="#1c1c1c" stroke-width="1.6"/>
<line x1="284.40" y1="115.50" x2="288.40" y2="115.50" stroke="#1c1c1c" stroke-width="1.6"/>
<line x1="462.40" y1="115.50" x2="458.40" y2="115.50" stroke="#1c1c1c" stroke-width="1.6"/>
<line x1="284.40" y1="89.50" x2="286.80" y2="89.50" stroke="#1c1c1c" stroke-width="1.6"/>
<line x1="462.40" y1="89.50" x2="460.00" y2="89.50" stroke="#1c1c1c" stroke-width="1.6"/>
<line x1="284.40" y1="75.50" x2="286.80" y2="75.50" stroke="#1c1c1c" stroke-width="1.6"/>
<line x1="462.40" y1="75.50" x2="460.00" y2="75.50" stroke="#1c1c1c" stroke-width="1.6"/>
<line x1="284.40" y1="64.50" x2="286.80" y2="64.50" stroke="#1c1c1c" stroke-width="1.6"/>
<line x1="462.40" y1="64.50" x2="460.00" y2="64.50" stroke="#1c1c1c" stroke-width="1.6"/>
<line x1="284.40" y1="56.50" x2="286.80" y2="56.50" stroke="#1c1c1c" stroke-width="1.6"/>
<line x1="462.40" y1="56.50" x2="460.00" y2="56.50" stroke="#1c1c1c" stroke-width="1.6"/>
<line x1="284.40" y1="49.50" x2="286.80" y2="49.50" stroke="#1c1c1c" stroke-width="1.6"/>
<line x1="462.40" y1="49.50" x2="460.00" y2="49.50" stroke="#1c1c1c" stroke-width="1.6"/>
<line x1="284.40" y1="44.50" x2="286.80" y2="44.50" stroke="#1c1c1c" stroke-width="1.6"/>
<line x1="462.40" y1="44.50" x2="460.00" y2="44.50" stroke="#1c1c1c" stroke-width="1.6"/>
<line x1="284.40" y1="39.50" x2="286.80" y2="39.50" stroke="#1c1c1c" stroke-width="1.6"/>
<line x1="462.40" y1="39.50" x2="460.00" y2="39.50" stroke="#1c1c1c" stroke-width="1.6"/>
<line x1="284.40" y1="34.50" x2="286.80" y2="34.50" stroke="#1c1c1c" stroke-width="1.6"/>
<line x1="462.40" y1="34.50" x2="460.00" y2="34.50" stroke="#1c1c1c" stroke-width="1.6"/>
<text x="307.25" y="320.00" font-size="11.2" fill="#1c1c1c" stroke="#1c1c1c" stroke-width="0.12" text-anchor="middle">0</text>
<text x="351.75" y="320.00" font-size="11.2" fill="#1c1c1c" stroke="#1c1c1c" stroke-width="0.12" text-anchor="middle">1</text>
<text x="396.25" y="320.00" font-size="11.2" fill="#1c1c1c" stroke="#1c1c1c" stroke-width="0.12" text-anchor="middle">2</text>
<text x="440.75" y="320.00" font-size="11.2" fill="#1c1c1c" stroke="#1c1c1c" stroke-width="0.12" text-anchor="middle">3</text>
<text x="280.20" y="287.90" font-size="11.4" fill="#1c1c1c" stroke="#1c1c1c" stroke-width="0.12" text-anchor="end">1</text>
<text x="280.20" y="203.85" font-size="11.4" fill="#1c1c1c" stroke="#1c1c1c" stroke-width="0.12" text-anchor="end">10</text>
<text x="280.20" y="119.80" font-size="11.4" fill="#1c1c1c" stroke="#1c1c1c" stroke-width="0.12" text-anchor="end">100</text>
<text x="278.60" y="35.75" font-size="11.4" fill="#1c1c1c" stroke="#1c1c1c" stroke-width="0.12" text-anchor="end">1000</text>
<text x="281.20" y="24.00" font-size="13.0" fill="#1c1c1c" stroke="#1c1c1c" stroke-width="0.12" text-anchor="start">(eV)</text>
<text x="289.00" y="47.10" font-size="13.6" fill="#1c1c1c" stroke="#1c1c1c" stroke-width="0.12" text-anchor="start">(c)</text>
<text x="278.60" y="335.60" font-size="14.1" fill="#1c1c1c" stroke="#1c1c1c" stroke-width="0.12" text-anchor="start" textLength="184.4" lengthAdjust="spacingAndGlyphs">Distance from separatrix (cm)</text>
<text x="282.50" y="350.60" font-size="14.1" fill="#1c1c1c" stroke="#1c1c1c" stroke-width="0.12" text-anchor="start" textLength="172.0" lengthAdjust="spacingAndGlyphs">mapping to outer midplane</text>
<text x="372.40" y="82.40" font-size="12.8" fill="#d42626" stroke="#d42626" stroke-width="0.12" text-anchor="start"><tspan font-style="italic">T</tspan><tspan dy="2.6" font-size="10">i</tspan><tspan dy="-5.4" font-size="10">Xp</tspan></text>
<text x="358.30" y="107.70" font-size="12.8" fill="#d42626" stroke="#d42626" stroke-width="0.12" text-anchor="start"><tspan font-style="italic">T</tspan><tspan dy="2.6" font-size="10">e</tspan><tspan dy="-5.4" font-size="10">Xp</tspan></text>
<text x="367.10" y="146.40" font-size="13.6" fill="#2c45a5" stroke="#2c45a5" stroke-width="0.12" text-anchor="start"><tspan font-style="italic">T</tspan><tspan dy="2.6" font-size="10">i</tspan><tspan dy="-5.8" font-size="10">div</tspan></text>
<text x="383.70" y="202.60" font-size="13.2" fill="#2c45a5" stroke="#2c45a5" stroke-width="0.12" text-anchor="start"><tspan font-style="italic">T</tspan><tspan dy="2.6" font-size="9.6">e</tspan><tspan dy="-5.5" font-size="9.6">div</tspan></text>
<line x1="584.60" y1="97.00" x2="584.60" y2="247.20" stroke="#a8a8a8" stroke-width="2.2" stroke-dasharray="8.2,4.1" stroke-dashoffset="3.9"/>
<polyline points="531.0,66.2 538.3,81.6 547.2,96.3 555.0,107.1 565.0,121.8 569.4,130.2 577.8,145.6 582.0,148.5 589.7,150.0 597.4,153.9 608.2,159.3 619.0,163.2 628.3,167.0 640.0,174.0 646.0,176.2 657.2,187.4 662.8,200.0 669.4,223.0" fill="none" stroke="#d42626" stroke-width="2.0" stroke-linejoin="round"/>
<polyline points="531.5,77.9 540.0,96.6 551.2,117.6 565.2,137.2 576.4,154.0 582.0,160.1 591.3,167.8 600.5,175.5 610.5,184.0 621.6,190.2 633.0,198.0 645.4,208.0 657.7,223.0 663.8,235.4 670.0,250.8" fill="none" stroke="#d42626" stroke-width="2.0" stroke-linejoin="round" stroke-dasharray="3.9,2.0"/>
<polyline points="506.6,231.9 520.4,230.4 531.7,222.8 537.6,206.8 543.5,200.1 549.4,207.6 556.1,200.9 561.1,198.4 567.0,197.6 573.7,190.0 576.4,181.5 579.0,179.0 584.6,177.9 592.4,186.8 610.4,203.7 623.8,210.4 643.8,218.5 656.2,224.0 662.3,230.8 669.4,243.1" fill="none" stroke="#2c45a5" stroke-width="2.0" stroke-linejoin="round"/>
<polyline points="506.6,252.7 520.1,250.2 532.6,237.9 536.8,221.9 542.6,212.7 550.2,226.1 555.3,220.3 560.3,218.6 567.0,221.9 573.7,216.9 578.8,195.0 584.6,191.3 594.8,202.6 604.6,220.3 612.5,231.1 624.2,237.0 636.0,241.9 645.0,249.7 651.5,256.9 659.2,270.8 665.4,289.2 668.5,307.0" fill="none" stroke="#2c45a5" stroke-width="2.0" stroke-linejoin="round" stroke-dasharray="3.9,2.0"/>
<rect x="506.6" y="30.3" width="178.60000000000002" height="277.0" fill="none" stroke="#1c1c1c" stroke-width="1.7"/>
<line x1="506.50" y1="307.30" x2="506.50" y2="302.30" stroke="#1c1c1c" stroke-width="1.6"/>
<line x1="506.50" y1="30.30" x2="506.50" y2="35.30" stroke="#1c1c1c" stroke-width="1.6"/>
<line x1="511.50" y1="307.30" x2="511.50" y2="304.30" stroke="#1c1c1c" stroke-width="1.6"/>
<line x1="511.50" y1="30.30" x2="511.50" y2="33.30" stroke="#1c1c1c" stroke-width="1.6"/>
<line x1="515.50" y1="307.30" x2="515.50" y2="304.30" stroke="#1c1c1c" stroke-width="1.6"/>
<line x1="515.50" y1="30.30" x2="515.50" y2="33.30" stroke="#1c1c1c" stroke-width="1.6"/>
<line x1="519.50" y1="307.30" x2="519.50" y2="304.30" stroke="#1c1c1c" stroke-width="1.6"/>
<line x1="519.50" y1="30.30" x2="519.50" y2="33.30" stroke="#1c1c1c" stroke-width="1.6"/>
<line x1="524.50" y1="307.30" x2="524.50" y2="304.30" stroke="#1c1c1c" stroke-width="1.6"/>
<line x1="524.50" y1="30.30" x2="524.50" y2="33.30" stroke="#1c1c1c" stroke-width="1.6"/>
<line x1="528.50" y1="307.30" x2="528.50" y2="302.30" stroke="#1c1c1c" stroke-width="1.6"/>
<line x1="528.50" y1="30.30" x2="528.50" y2="35.30" stroke="#1c1c1c" stroke-width="1.6"/>
<line x1="533.50" y1="307.30" x2="533.50" y2="304.30" stroke="#1c1c1c" stroke-width="1.6"/>
<line x1="533.50" y1="30.30" x2="533.50" y2="33.30" stroke="#1c1c1c" stroke-width="1.6"/>
<line x1="537.50" y1="307.30" x2="537.50" y2="304.30" stroke="#1c1c1c" stroke-width="1.6"/>
<line x1="537.50" y1="30.30" x2="537.50" y2="33.30" stroke="#1c1c1c" stroke-width="1.6"/>
<line x1="542.50" y1="307.30" x2="542.50" y2="304.30" stroke="#1c1c1c" stroke-width="1.6"/>
<line x1="542.50" y1="30.30" x2="542.50" y2="33.30" stroke="#1c1c1c" stroke-width="1.6"/>
<line x1="546.50" y1="307.30" x2="546.50" y2="304.30" stroke="#1c1c1c" stroke-width="1.6"/>
<line x1="546.50" y1="30.30" x2="546.50" y2="33.30" stroke="#1c1c1c" stroke-width="1.6"/>
<line x1="551.50" y1="307.30" x2="551.50" y2="302.30" stroke="#1c1c1c" stroke-width="1.6"/>
<line x1="551.50" y1="30.30" x2="551.50" y2="35.30" stroke="#1c1c1c" stroke-width="1.6"/>
<line x1="555.50" y1="307.30" x2="555.50" y2="304.30" stroke="#1c1c1c" stroke-width="1.6"/>
<line x1="555.50" y1="30.30" x2="555.50" y2="33.30" stroke="#1c1c1c" stroke-width="1.6"/>
<line x1="560.50" y1="307.30" x2="560.50" y2="304.30" stroke="#1c1c1c" stroke-width="1.6"/>
<line x1="560.50" y1="30.30" x2="560.50" y2="33.30" stroke="#1c1c1c" stroke-width="1.6"/>
<line x1="564.50" y1="307.30" x2="564.50" y2="304.30" stroke="#1c1c1c" stroke-width="1.6"/>
<line x1="564.50" y1="30.30" x2="564.50" y2="33.30" stroke="#1c1c1c" stroke-width="1.6"/>
<line x1="569.50" y1="307.30" x2="569.50" y2="304.30" stroke="#1c1c1c" stroke-width="1.6"/>
<line x1="569.50" y1="30.30" x2="569.50" y2="33.30" stroke="#1c1c1c" stroke-width="1.6"/>
<line x1="573.50" y1="307.30" x2="573.50" y2="302.30" stroke="#1c1c1c" stroke-width="1.6"/>
<line x1="573.50" y1="30.30" x2="573.50" y2="35.30" stroke="#1c1c1c" stroke-width="1.6"/>
<line x1="578.50" y1="307.30" x2="578.50" y2="304.30" stroke="#1c1c1c" stroke-width="1.6"/>
<line x1="578.50" y1="30.30" x2="578.50" y2="33.30" stroke="#1c1c1c" stroke-width="1.6"/>
<line x1="582.50" y1="307.30" x2="582.50" y2="304.30" stroke="#1c1c1c" stroke-width="1.6"/>
<line x1="582.50" y1="30.30" x2="582.50" y2="33.30" stroke="#1c1c1c" stroke-width="1.6"/>
<line x1="586.50" y1="307.30" x2="586.50" y2="304.30" stroke="#1c1c1c" stroke-width="1.6"/>
<line x1="586.50" y1="30.30" x2="586.50" y2="33.30" stroke="#1c1c1c" stroke-width="1.6"/>
<line x1="591.50" y1="307.30" x2="591.50" y2="304.30" stroke="#1c1c1c" stroke-width="1.6"/>
<line x1="591.50" y1="30.30" x2="591.50" y2="33.30" stroke="#1c1c1c" stroke-width="1.6"/>
<line x1="595.50" y1="307.30" x2="595.50" y2="302.30" stroke="#1c1c1c" stroke-width="1.6"/>
<line x1="595.50" y1="30.30" x2="595.50" y2="35.30" stroke="#1c1c1c" stroke-width="1.6"/>
<line x1="600.50" y1="307.30" x2="600.50" y2="304.30" stroke="#1c1c1c" stroke-width="1.6"/>
<line x1="600.50" y1="30.30" x2="600.50" y2="33.30" stroke="#1c1c1c" stroke-width="1.6"/>
<line x1="604.50" y1="307.30" x2="604.50" y2="304.30" stroke="#1c1c1c" stroke-width="1.6"/>
<line x1="604.50" y1="30.30" x2="604.50" y2="33.30" stroke="#1c1c1c" stroke-width="1.6"/>
<line x1="609.50" y1="307.30" x2="609.50" y2="304.30" stroke="#1c1c1c" stroke-width="1.6"/>
<line x1="609.50" y1="30.30" x2="609.50" y2="33.30" stroke="#1c1c1c" stroke-width="1.6"/>
<line x1="613.50" y1="307.30" x2="613.50" y2="304.30" stroke="#1c1c1c" stroke-width="1.6"/>
<line x1="613.50" y1="30.30" x2="613.50" y2="33.30" stroke="#1c1c1c" stroke-width="1.6"/>
<line x1="618.50" y1="307.30" x2="618.50" y2="302.30" stroke="#1c1c1c" stroke-width="1.6"/>
<line x1="618.50" y1="30.30" x2="618.50" y2="35.30" stroke="#1c1c1c" stroke-width="1.6"/>
<line x1="622.50" y1="307.30" x2="622.50" y2="304.30" stroke="#1c1c1c" stroke-width="1.6"/>
<line x1="622.50" y1="30.30" x2="622.50" y2="33.30" stroke="#1c1c1c" stroke-width="1.6"/>
<line x1="627.50" y1="307.30" x2="627.50" y2="304.30" stroke="#1c1c1c" stroke-width="1.6"/>
<line x1="627.50" y1="30.30" x2="627.50" y2="33.30" stroke="#1c1c1c" stroke-width="1.6"/>
<line x1="631.50" y1="307.30" x2="631.50" y2="304.30" stroke="#1c1c1c" stroke-width="1.6"/>
<line x1="631.50" y1="30.30" x2="631.50" y2="33.30" stroke="#1c1c1c" stroke-width="1.6"/>
<line x1="636.50" y1="307.30" x2="636.50" y2="304.30" stroke="#1c1c1c" stroke-width="1.6"/>
<line x1="636.50" y1="30.30" x2="636.50" y2="33.30" stroke="#1c1c1c" stroke-width="1.6"/>
<line x1="640.50" y1="307.30" x2="640.50" y2="302.30" stroke="#1c1c1c" stroke-width="1.6"/>
<line x1="640.50" y1="30.30" x2="640.50" y2="35.30" stroke="#1c1c1c" stroke-width="1.6"/>
<line x1="645.50" y1="307.30" x2="645.50" y2="304.30" stroke="#1c1c1c" stroke-width="1.6"/>
<line x1="645.50" y1="30.30" x2="645.50" y2="33.30" stroke="#1c1c1c" stroke-width="1.6"/>
<line x1="649.50" y1="307.30" x2="649.50" y2="304.30" stroke="#1c1c1c" stroke-width="1.6"/>
<line x1="649.50" y1="30.30" x2="649.50" y2="33.30" stroke="#1c1c1c" stroke-width="1.6"/>
<line x1="653.50" y1="307.30" x2="653.50" y2="304.30" stroke="#1c1c1c" stroke-width="1.6"/>
<line x1="653.50" y1="30.30" x2="653.50" y2="33.30" stroke="#1c1c1c" stroke-width="1.6"/>
<line x1="658.50" y1="307.30" x2="658.50" y2="304.30" stroke="#1c1c1c" stroke-width="1.6"/>
<line x1="658.50" y1="30.30" x2="658.50" y2="33.30" stroke="#1c1c1c" stroke-width="1.6"/>
<line x1="662.50" y1="307.30" x2="662.50" y2="302.30" stroke="#1c1c1c" stroke-width="1.6"/>
<line x1="662.50" y1="30.30" x2="662.50" y2="35.30" stroke="#1c1c1c" stroke-width="1.6"/>
<line x1="667.50" y1="307.30" x2="667.50" y2="304.30" stroke="#1c1c1c" stroke-width="1.6"/>
<line x1="667.50" y1="30.30" x2="667.50" y2="33.30" stroke="#1c1c1c" stroke-width="1.6"/>
<line x1="671.50" y1="307.30" x2="671.50" y2="304.30" stroke="#1c1c1c" stroke-width="1.6"/>
<line x1="671.50" y1="30.30" x2="671.50" y2="33.30" stroke="#1c1c1c" stroke-width="1.6"/>
<line x1="676.50" y1="307.30" x2="676.50" y2="304.30" stroke="#1c1c1c" stroke-width="1.6"/>
<line x1="676.50" y1="30.30" x2="676.50" y2="33.30" stroke="#1c1c1c" stroke-width="1.6"/>
<line x1="680.50" y1="307.30" x2="680.50" y2="304.30" stroke="#1c1c1c" stroke-width="1.6"/>
<line x1="680.50" y1="30.30" x2="680.50" y2="33.30" stroke="#1c1c1c" stroke-width="1.6"/>
<line x1="685.50" y1="307.30" x2="685.50" y2="302.30" stroke="#1c1c1c" stroke-width="1.6"/>
<line x1="685.50" y1="30.30" x2="685.50" y2="35.30" stroke="#1c1c1c" stroke-width="1.6"/>
<line x1="506.60" y1="285.50" x2="509.00" y2="285.50" stroke="#1c1c1c" stroke-width="1.6"/>
<line x1="685.20" y1="285.50" x2="682.80" y2="285.50" stroke="#1c1c1c" stroke-width="1.6"/>
<line x1="506.60" y1="271.50" x2="509.00" y2="271.50" stroke="#1c1c1c" stroke-width="1.6"/>
<line x1="685.20" y1="271.50" x2="682.80" y2="271.50" stroke="#1c1c1c" stroke-width="1.6"/>
<line x1="506.60" y1="262.50" x2="509.00" y2="262.50" stroke="#1c1c1c" stroke-width="1.6"/>
<line x1="685.20" y1="262.50" x2="682.80" y2="262.50" stroke="#1c1c1c" stroke-width="1.6"/>
<line x1="506.60" y1="255.50" x2="509.00" y2="255.50" stroke="#1c1c1c" stroke-width="1.6"/>
<line x1="685.20" y1="255.50" x2="682.80" y2="255.50" stroke="#1c1c1c" stroke-width="1.6"/>
<line x1="506.60" y1="249.50" x2="509.00" y2="249.50" stroke="#1c1c1c" stroke-width="1.6"/>
<line x1="685.20" y1="249.50" x2="682.80" y2="249.50" stroke="#1c1c1c" stroke-width="1.6"/>
<line x1="506.60" y1="244.50" x2="509.00" y2="244.50" stroke="#1c1c1c" stroke-width="1.6"/>
<line x1="685.20" y1="244.50" x2="682.80" y2="244.50" stroke="#1c1c1c" stroke-width="1.6"/>
<line x1="506.60" y1="239.50" x2="509.00" y2="239.50" stroke="#1c1c1c" stroke-width="1.6"/>
<line x1="685.20" y1="239.50" x2="682.80" y2="239.50" stroke="#1c1c1c" stroke-width="1.6"/>
<line x1="506.60" y1="236.50" x2="509.00" y2="236.50" stroke="#1c1c1c" stroke-width="1.6"/>
<line x1="685.20" y1="236.50" x2="682.80" y2="236.50" stroke="#1c1c1c" stroke-width="1.6"/>
<line x1="506.60" y1="232.50" x2="510.80" y2="232.50" stroke="#1c1c1c" stroke-width="1.6"/>
<line x1="685.20" y1="232.50" x2="681.00" y2="232.50" stroke="#1c1c1c" stroke-width="1.6"/>
<line x1="506.60" y1="210.50" x2="509.00" y2="210.50" stroke="#1c1c1c" stroke-width="1.6"/>
<line x1="685.20" y1="210.50" x2="682.80" y2="210.50" stroke="#1c1c1c" stroke-width="1.6"/>
<line x1="506.60" y1="196.50" x2="509.00" y2="196.50" stroke="#1c1c1c" stroke-width="1.6"/>
<line x1="685.20" y1="196.50" x2="682.80" y2="196.50" stroke="#1c1c1c" stroke-width="1.6"/>
<line x1="506.60" y1="187.50" x2="509.00" y2="187.50" stroke="#1c1c1c" stroke-width="1.6"/>
<line x1="685.20" y1="187.50" x2="682.80" y2="187.50" stroke="#1c1c1c" stroke-width="1.6"/>
<line x1="506.60" y1="180.50" x2="509.00" y2="180.50" stroke="#1c1c1c" stroke-width="1.6"/>
<line x1="685.20" y1="180.50" x2="682.80" y2="180.50" stroke="#1c1c1c" stroke-width="1.6"/>
<line x1="506.60" y1="174.50" x2="509.00" y2="174.50" stroke="#1c1c1c" stroke-width="1.6"/>
<line x1="685.20" y1="174.50" x2="682.80" y2="174.50" stroke="#1c1c1c" stroke-width="1.6"/>
<line x1="506.60" y1="169.50" x2="509.00" y2="169.50" stroke="#1c1c1c" stroke-width="1.6"/>
<line x1="685.20" y1="169.50" x2="682.80" y2="169.50" stroke="#1c1c1c" stroke-width="1.6"/>
<line x1="506.60" y1="164.50" x2="509.00" y2="164.50" stroke="#1c1c1c" stroke-width="1.6"/>
<line x1="685.20" y1="164.50" x2="682.80" y2="164.50" stroke="#1c1c1c" stroke-width="1.6"/>
<line x1="506.60" y1="161.50" x2="509.00" y2="161.50" stroke="#1c1c1c" stroke-width="1.6"/>
<line x1="685.20" y1="161.50" x2="682.80" y2="161.50" stroke="#1c1c1c" stroke-width="1.6"/>
<line x1="506.60" y1="157.50" x2="510.80" y2="157.50" stroke="#1c1c1c" stroke-width="1.6"/>
<line x1="685.20" y1="157.50" x2="681.00" y2="157.50" stroke="#1c1c1c" stroke-width="1.6"/>
<line x1="506.60" y1="135.50" x2="509.00" y2="135.50" stroke="#1c1c1c" stroke-width="1.6"/>
<line x1="685.20" y1="135.50" x2="682.80" y2="135.50" stroke="#1c1c1c" stroke-width="1.6"/>
<line x1="506.60" y1="121.50" x2="509.00" y2="121.50" stroke="#1c1c1c" stroke-width="1.6"/>
<line x1="685.20" y1="121.50" x2="682.80" y2="121.50" stroke="#1c1c1c" stroke-width="1.6"/>
<line x1="506.60" y1="112.50" x2="509.00" y2="112.50" stroke="#1c1c1c" stroke-width="1.6"/>
<line x1="685.20" y1="112.50" x2="682.80" y2="112.50" stroke="#1c1c1c" stroke-width="1.6"/>
<line x1="506.60" y1="105.50" x2="509.00" y2="105.50" stroke="#1c1c1c" stroke-width="1.6"/>
<line x1="685.20" y1="105.50" x2="682.80" y2="105.50" stroke="#1c1c1c" stroke-width="1.6"/>
<line x1="506.60" y1="99.50" x2="509.00" y2="99.50" stroke="#1c1c1c" stroke-width="1.6"/>
<line x1="685.20" y1="99.50" x2="682.80" y2="99.50" stroke="#1c1c1c" stroke-width="1.6"/>
<line x1="506.60" y1="94.50" x2="509.00" y2="94.50" stroke="#1c1c1c" stroke-width="1.6"/>
<line x1="685.20" y1="94.50" x2="682.80" y2="94.50" stroke="#1c1c1c" stroke-width="1.6"/>
<line x1="506.60" y1="89.50" x2="509.00" y2="89.50" stroke="#1c1c1c" stroke-width="1.6"/>
<line x1="685.20" y1="89.50" x2="682.80" y2="89.50" stroke="#1c1c1c" stroke-width="1.6"/>
<line x1="506.60" y1="86.50" x2="509.00" y2="86.50" stroke="#1c1c1c" stroke-width="1.6"/>
<line x1="685.20" y1="86.50" x2="682.80" y2="86.50" stroke="#1c1c1c" stroke-width="1.6"/>
<line x1="506.60" y1="82.50" x2="510.80" y2="82.50" stroke="#1c1c1c" stroke-width="1.6"/>
<line x1="685.20" y1="82.50" x2="681.00" y2="82.50" stroke="#1c1c1c" stroke-width="1.6"/>
<line x1="506.60" y1="60.50" x2="509.00" y2="60.50" stroke="#1c1c1c" stroke-width="1.6"/>
<line x1="685.20" y1="60.50" x2="682.80" y2="60.50" stroke="#1c1c1c" stroke-width="1.6"/>
<line x1="506.60" y1="46.50" x2="509.00" y2="46.50" stroke="#1c1c1c" stroke-width="1.6"/>
<line x1="685.20" y1="46.50" x2="682.80" y2="46.50" stroke="#1c1c1c" stroke-width="1.6"/>
<line x1="506.60" y1="37.50" x2="509.00" y2="37.50" stroke="#1c1c1c" stroke-width="1.6"/>
<line x1="685.20" y1="37.50" x2="682.80" y2="37.50" stroke="#1c1c1c" stroke-width="1.6"/>
<text x="529.13" y="319.40" font-size="11.2" fill="#1c1c1c" stroke="#1c1c1c" stroke-width="0.12" text-anchor="middle">0</text>
<text x="573.78" y="319.40" font-size="11.2" fill="#1c1c1c" stroke="#1c1c1c" stroke-width="0.12" text-anchor="middle">1</text>
<text x="618.43" y="319.40" font-size="11.2" fill="#1c1c1c" stroke="#1c1c1c" stroke-width="0.12" text-anchor="middle">2</text>
<text x="663.08" y="319.40" font-size="11.2" fill="#1c1c1c" stroke="#1c1c1c" stroke-width="0.12" text-anchor="middle">3</text>
<text x="482.40" y="84.70" font-size="11.8" fill="#1c1c1c" stroke="#1c1c1c" stroke-width="0.12" text-anchor="start">10</text>
<text x="496.40" y="79.30" font-size="8.8" fill="#1c1c1c" stroke="#1c1c1c" stroke-width="0.12" text-anchor="start">9</text>
<text x="687.40" y="83.50" font-size="11.8" fill="#1c1c1c" stroke="#1c1c1c" stroke-width="0.12" text-anchor="start">10</text>
<text x="701.40" y="76.60" font-size="8.8" fill="#1c1c1c" stroke="#1c1c1c" stroke-width="0.12" text-anchor="start">8</text>
<text x="482.40" y="160.40" font-size="11.8" fill="#1c1c1c" stroke="#1c1c1c" stroke-width="0.12" text-anchor="start">10</text>
<text x="496.40" y="155.50" font-size="8.8" fill="#1c1c1c" stroke="#1c1c1c" stroke-width="0.12" text-anchor="start">8</text>
<text x="687.40" y="159.80" font-size="11.8" fill="#1c1c1c" stroke="#1c1c1c" stroke-width="0.12" text-anchor="start">10</text>
<text x="701.40" y="153.30" font-size="8.8" fill="#1c1c1c" stroke="#1c1c1c" stroke-width="0.12" text-anchor="start">7</text>
<text x="482.40" y="236.50" font-size="11.8" fill="#1c1c1c" stroke="#1c1c1c" stroke-width="0.12" text-anchor="start">10</text>
<text x="496.40" y="230.50" font-size="8.8" fill="#1c1c1c" stroke="#1c1c1c" stroke-width="0.12" text-anchor="start">7</text>
<text x="687.40" y="235.80" font-size="11.8" fill="#1c1c1c" stroke="#1c1c1c" stroke-width="0.12" text-anchor="start">10</text>
<text x="701.40" y="229.10" font-size="8.8" fill="#1c1c1c" stroke="#1c1c1c" stroke-width="0.12" text-anchor="start">6</text>
<text x="482.40" y="309.70" font-size="11.8" fill="#1c1c1c" stroke="#1c1c1c" stroke-width="0.12" text-anchor="start">10</text>
<text x="496.40" y="304.60" font-size="8.8" fill="#1c1c1c" stroke="#1c1c1c" stroke-width="0.12" text-anchor="start">6</text>
<text x="687.40" y="308.90" font-size="11.8" fill="#1c1c1c" stroke="#1c1c1c" stroke-width="0.12" text-anchor="start">10</text>
<text x="701.40" y="303.00" font-size="8.8" fill="#1c1c1c" stroke="#1c1c1c" stroke-width="0.12" text-anchor="start">5</text>
<text x="477.80" y="25.00" font-size="13.2" fill="#1c1c1c" stroke="#1c1c1c" stroke-width="0.12" text-anchor="start" textLength="41.0" lengthAdjust="spacingAndGlyphs">(Wm<tspan dy="-5.2" font-size="8.8">-2</tspan><tspan dy="5.2">)</tspan></text>
<text x="665.20" y="25.00" font-size="13.2" fill="#1c1c1c" stroke="#1c1c1c" stroke-width="0.12" text-anchor="start" textLength="41.0" lengthAdjust="spacingAndGlyphs">(Wm<tspan dy="-5.2" font-size="8.8">-2</tspan><tspan dy="5.2">)</tspan></text>
<text x="525.30" y="18.60" font-size="12.6" fill="#1c1c1c" stroke="#1c1c1c" stroke-width="0.12" text-anchor="start" textLength="55.0" lengthAdjust="spacingAndGlyphs"><tspan font-style="italic">near-SOL</tspan></text>
<text x="593.00" y="18.60" font-size="12.6" fill="#1c1c1c" stroke="#1c1c1c" stroke-width="0.12" text-anchor="start" textLength="44.0" lengthAdjust="spacingAndGlyphs"><tspan font-style="italic">far-SOL</tspan></text>
<line x1="528.40" y1="23.90" x2="579.00" y2="23.90" stroke="#1c1c1c" stroke-width="1.3"/>
<polygon points="582.7,23.9 577.2,26.4 578.0,23.9 577.2,21.4" fill="#1c1c1c"/>
<line x1="584.00" y1="23.90" x2="651.00" y2="23.90" stroke="#1c1c1c" stroke-width="1.3" stroke-dasharray="2.8,3.4,6.8,3.1,6.8,3.1,6.8,3.1,6.8,3.1,6.8,3.1,6.8,3.1"/>
<polygon points="656.9,23.9 650.9,26.4 651.8,23.9 650.9,21.4" fill="#1c1c1c"/>
<text x="513.40" y="47.40" font-size="13.8" fill="#1c1c1c" stroke="#1c1c1c" stroke-width="0.12" text-anchor="start">(d)</text>
<text x="507.40" y="335.60" font-size="14.1" fill="#1c1c1c" stroke="#1c1c1c" stroke-width="0.12" text-anchor="start" textLength="184.4" lengthAdjust="spacingAndGlyphs">Distance from separatrix (cm)</text>
<text x="511.30" y="350.60" font-size="14.1" fill="#1c1c1c" stroke="#1c1c1c" stroke-width="0.12" text-anchor="start" textLength="172.0" lengthAdjust="spacingAndGlyphs">mapping to outer midplane</text>
<text x="543.80" y="55.00" font-size="13.0" fill="#1c1c1c" stroke="#1c1c1c" stroke-width="0.12" text-anchor="start"><tspan font-style="italic">q</tspan><tspan dy="4.6" font-size="10" font-style="italic">//</tspan><tspan dy="-6.9" font-size="10">Xp</tspan></text>
<line x1="556.00" y1="62.60" x2="520.00" y2="62.60" stroke="#1c1c1c" stroke-width="1.3"/>
<polygon points="516.9,62.6 521.7,60.3 521.0,62.6 521.7,64.9" fill="#1c1c1c"/>
<text x="571.60" y="90.90" font-size="11.2" fill="#1c1c1c" stroke="#1c1c1c" stroke-width="0.12" text-anchor="start">peak <tspan font-style="italic">q</tspan><tspan dy="2.6" font-size="9.8">target</tspan></text>
<text x="587.40" y="144.20" font-size="12.4" fill="#d42626" stroke="#d42626" stroke-width="0.12" text-anchor="start"><tspan font-style="italic">q</tspan><tspan dy="3.4" font-size="10.2"><tspan font-style="italic">//</tspan><tspan dy="-1">e</tspan></tspan><tspan dy="-2.4">+</tspan><tspan font-style="italic">q</tspan><tspan dy="3.4" font-size="10.2"><tspan font-style="italic">//</tspan><tspan dy="-1">i</tspan></tspan></text>
<text x="607.80" y="175.00" font-size="12.2" fill="#d42626" stroke="#d42626" stroke-width="0.12" text-anchor="start"><tspan font-style="italic">q</tspan><tspan dy="3.6" font-size="10.2"><tspan font-style="italic">//</tspan><tspan dy="-1">e</tspan></tspan></text>
<text x="536.30" y="165.30" font-size="12.4" fill="#1c1c1c" stroke="#1c1c1c" stroke-width="0.12" text-anchor="start"><tspan font-style="italic">q</tspan><tspan dy="3.6" font-size="9.4">⊥</tspan><tspan dy="-6.9" font-size="10">div</tspan></text>
<line x1="529.00" y1="174.00" x2="564.00" y2="174.00" stroke="#1c1c1c" stroke-width="1.3"/>
<polygon points="568.0,174.0 562.3,176.5 563.2,174.0 562.3,171.5" fill="#1c1c1c"/>
<text x="510.40" y="185.50" font-size="12.6" fill="#2c45a5" stroke="#2c45a5" stroke-width="0.12" text-anchor="start">total <tspan font-style="italic">q</tspan><tspan dy="2.6" font-size="10.6">target</tspan></text>
<text x="532.20" y="263.00" font-size="12.8" fill="#2c45a5" stroke="#2c45a5" stroke-width="0.12" text-anchor="start"><tspan font-style="italic">q</tspan><tspan dy="2.4" font-size="9.8">t</tspan><tspan dy="-4.6" font-size="10.6">plasma</tspan><tspan dy="2.2">+</tspan><tspan font-style="italic">q</tspan><tspan dy="2.4" font-size="9.8">t</tspan><tspan dy="-4.6" font-size="10.6">rec</tspan></text>
<line x1="532.60" y1="237.30" x2="540.80" y2="252.40" stroke="#2c45a5" stroke-width="1.0"/>
</svg></body></html>
